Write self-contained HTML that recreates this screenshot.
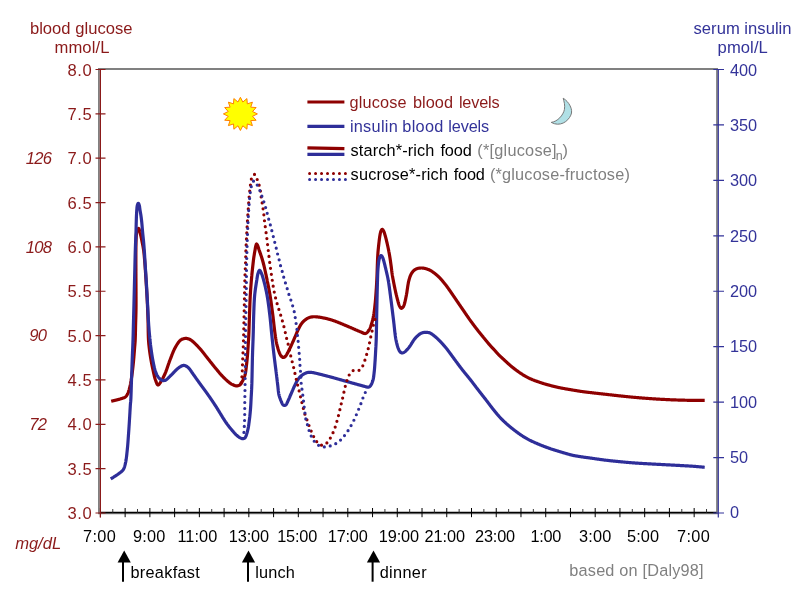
<!DOCTYPE html>
<html><head><meta charset="utf-8"><title>glucose insulin day</title>
<style>
html,body{margin:0;padding:0;background:#fff;}
body{width:800px;height:600px;overflow:hidden;}
svg{display:block;will-change:transform;}
text{font-family:"Liberation Sans",sans-serif;font-size:16.3px;}
.r{fill:#8B1A1A}.b{fill:#333399}.g{fill:#808080}.k{fill:#000}.i{font-style:italic}
</style></head><body>
<svg width="800" height="600" viewBox="0 0 800 600">
<rect width="800" height="600" fill="#fff"/>
<g stroke="#808080" stroke-width="1.8" fill="none"><path d="M98,69 H718"/><path d="M98.9,68.1 V513.5"/><path d="M717,68.1 V513.6"/><path d="M98,513.3 H718"/></g>
<g stroke="#000" fill="none"><path d="M100,512.5 H716.4" stroke-width="1.3"/><path d="M100.40,508V517.2M125.14,508V517.2M149.88,508V517.2M174.62,508V517.2M199.36,508V517.2M224.10,508V517.2M248.84,508V517.2M273.58,508V517.2M298.32,508V517.2M323.06,508V517.2M347.80,508V517.2M372.54,508V517.2M397.28,508V517.2M422.02,508V517.2M446.76,508V517.2M471.50,508V517.2M496.24,508V517.2M520.98,508V517.2M545.72,508V517.2M570.46,508V517.2M595.20,508V517.2M619.94,508V517.2M644.68,508V517.2M669.42,508V517.2M694.16,508V517.2" stroke-width="1"/><path d="M112.77,509V513M137.51,509V513M162.25,509V513M186.99,509V513M211.73,509V513M236.47,509V513M261.21,509V513M285.95,509V513M310.69,509V513M335.43,509V513M360.17,509V513M384.91,509V513M409.65,509V513M434.39,509V513M459.13,509V513M483.87,509V513M508.61,509V513M533.35,509V513M558.09,509V513M582.83,509V513M607.57,509V513M632.31,509V513M657.05,509V513M681.79,509V513M706.53,509V513" stroke-width="0.9" stroke="#222"/></g>
<path d="M100.4,69V517.5M95.5,513.00H105.5M95.5,468.65H105.5M95.5,424.30H105.5M95.5,379.95H105.5M95.5,335.60H105.5M95.5,291.25H105.5M95.5,246.90H105.5M95.5,202.55H105.5M95.5,158.20H105.5M95.5,113.85H105.5M95.5,69.50H105.5" stroke="#8B1A1A" stroke-width="1.2" fill="none"/>
<path d="M718.3,69V517.5M713.3,513.00H724M713.3,457.56H724M713.3,402.12H724M713.3,346.68H724M713.3,291.24H724M713.3,235.80H724M713.3,180.36H724M713.3,124.92H724M713.3,69.48H724" stroke="#333399" stroke-width="1.2" fill="none"/>
<text class="r" x="67.50" y="518.80" style="font-size:16.6px;letter-spacing:0.532px">3.0</text><text class="r" x="67.50" y="474.50" style="font-size:16.6px;letter-spacing:0.532px">3.5</text><text class="r" x="67.50" y="430.20" style="font-size:16.6px;letter-spacing:0.532px">4.0</text><text class="r" x="67.50" y="385.90" style="font-size:16.6px;letter-spacing:0.532px">4.5</text><text class="r" x="67.50" y="341.60" style="font-size:16.6px;letter-spacing:0.532px">5.0</text><text class="r" x="67.50" y="297.30" style="font-size:16.6px;letter-spacing:0.532px">5.5</text><text class="r" x="67.50" y="253.00" style="font-size:16.6px;letter-spacing:0.532px">6.0</text><text class="r" x="67.50" y="208.70" style="font-size:16.6px;letter-spacing:0.532px">6.5</text><text class="r" x="67.50" y="164.40" style="font-size:16.6px;letter-spacing:0.532px">7.0</text><text class="r" x="67.50" y="120.10" style="font-size:16.6px;letter-spacing:0.532px">7.5</text><text class="r" x="67.50" y="75.80" style="font-size:16.6px;letter-spacing:0.532px">8.0</text>
<text class="r i" x="38.6" y="164.00" text-anchor="middle" style="font-size:16.6px;letter-spacing:-0.705px">126</text><text class="r i" x="38.6" y="252.70" text-anchor="middle" style="font-size:16.6px;letter-spacing:-0.705px">108</text><text class="r i" x="37.8" y="341.40" text-anchor="middle" style="font-size:16.6px;letter-spacing:-0.705px">90</text><text class="r i" x="37.8" y="430.10" text-anchor="middle" style="font-size:16.6px;letter-spacing:-0.705px">72</text><text class="r i" x="15.14" y="548.80" style="font-size:16.6px;letter-spacing:-0.032px">mg/dL</text>
<text class="r" x="29.88" y="33.60" style="font-size:16.6px;letter-spacing:0.024px">blood glucose</text><text class="r" x="54.46" y="53.00" style="font-size:16.6px;letter-spacing:0.111px">mmol/L</text>
<text class="b" x="729.9" y="518.20" style="font-size:16.3px">0</text><text class="b" x="729.9" y="462.90" style="font-size:16.3px">50</text><text class="b" x="729.9" y="407.60" style="font-size:16.3px">100</text><text class="b" x="729.9" y="352.30" style="font-size:16.3px">150</text><text class="b" x="729.9" y="297.00" style="font-size:16.3px">200</text><text class="b" x="729.9" y="241.70" style="font-size:16.3px">250</text><text class="b" x="729.9" y="186.40" style="font-size:16.3px">300</text><text class="b" x="729.9" y="131.10" style="font-size:16.3px">350</text><text class="b" x="729.9" y="75.80" style="font-size:16.3px">400</text>
<text class="b" x="693.50" y="33.70" style="font-size:16.6px;letter-spacing:0.025px">serum insulin</text><text class="b" x="717.58" y="52.70" style="font-size:16.6px;letter-spacing:0.085px">pmol/L</text>
<text class="k" x="83.00" y="541.50" style="font-size:16.3px;letter-spacing:0.333px">7:00</text><text class="k" x="133.00" y="541.50" style="font-size:16.3px;letter-spacing:0.2px">9:00</text><text class="k" x="177.38" y="541.50" style="font-size:16.3px;letter-spacing:0.068px">11:00</text><text class="k" x="228.78" y="541.50" style="font-size:16.3px;letter-spacing:-0.095px">13:00</text><text class="k" x="277.18" y="541.50" style="font-size:16.3px;letter-spacing:-0.145px">15:00</text><text class="k" x="327.78" y="541.50" style="font-size:16.3px;letter-spacing:-0.195px">17:00</text><text class="k" x="378.78" y="541.50" style="font-size:16.3px;letter-spacing:-0.095px">19:00</text><text class="k" x="424.40" y="541.50" style="font-size:16.3px;letter-spacing:0.0px">21:00</text><text class="k" x="475.00" y="541.50" style="font-size:16.3px;letter-spacing:-0.15px">23:00</text><text class="k" x="530.38" y="541.50" style="font-size:16.3px;letter-spacing:-0.26px">1:00</text><text class="k" x="579.00" y="541.50" style="font-size:16.3px;letter-spacing:0.2px">3:00</text><text class="k" x="626.95" y="541.50" style="font-size:16.3px;letter-spacing:0.15px">5:00</text><text class="k" x="677.00" y="541.50" style="font-size:16.3px;letter-spacing:0.333px">7:00</text>
<path d="M123.00,581.7V560" stroke="#000" stroke-width="2" fill="none"/><path d="M124.20,550.6L130.80,562.4L117.60,562.4Z" fill="#000"/><text class="k" x="130.41" y="578.20" style="font-size:16.3px;letter-spacing:0.299px">breakfast</text>
<path d="M248.00,581.7V560" stroke="#000" stroke-width="2" fill="none"/><path d="M248.50,550.6L255.10,562.4L241.90,562.4Z" fill="#000"/><text class="k" x="255.13" y="578.20" style="font-size:16.3px;letter-spacing:0.191px">lunch</text>
<path d="M372.60,581.7V560" stroke="#000" stroke-width="2" fill="none"/><path d="M373.50,550.6L380.10,562.4L366.90,562.4Z" fill="#000"/><text class="k" x="379.75" y="578.20" style="font-size:16.3px;letter-spacing:0.318px">dinner</text>
<text class="g" x="569.31" y="576.40" style="font-size:16.3px;letter-spacing:0.193px">based on [Daly98]</text>
<g fill="none" stroke-width="3.2"><path d="M307.4,102H344.4" stroke="#8E0000"/><path d="M307.4,126.4H344.4" stroke="#2E2E99"/><path d="M307.4,147.8L344.4,148.6" stroke="#8E0000"/><path d="M307.4,154.4H344.4" stroke="#2E2E99"/><path d="M309.6,173.4H346" stroke="#8E0000" stroke-width="3" stroke-linecap="round" stroke-dasharray="0 5.97"/><path d="M309.6,179.4H346" stroke="#2E2E99" stroke-width="3" stroke-linecap="round" stroke-dasharray="0 5.97"/></g>
<text class="r" x="349.40" y="107.60" style="font-size:16.3px;letter-spacing:0.194px">glucose</text><text class="r" x="412.91" y="107.60" style="font-size:16.3px;letter-spacing:0.064px">blood</text><text class="r" x="458.88" y="107.60" style="font-size:16.3px;letter-spacing:-0.175px">levels</text>
<text class="b" x="349.88" y="131.60" style="font-size:16.3px;letter-spacing:0.287px">insulin</text><text class="b" x="402.31" y="131.60" style="font-size:16.3px;letter-spacing:0.314px">blood</text><text class="b" x="448.28" y="131.60" style="font-size:16.3px;letter-spacing:-0.135px">levels</text>
<text class="k" x="350.60" y="155.60" style="font-size:16.3px;letter-spacing:0.127px">starch*-rich</text><text class="k" x="440.38" y="155.60" style="font-size:16.3px;letter-spacing:-0.072px">food</text><text class="g" x="477.32" y="155.60" style="font-size:16.3px;letter-spacing:0.233px">(*[glucose]</text><text class="g" x="555.8" y="159.7" style="font-size:12.5px">n</text><text class="g" x="562.55" y="155.60" style="font-size:16.3px;letter-spacing:0.0px">)</text>
<text class="k" x="350.60" y="180.40" style="font-size:16.3px;letter-spacing:0.2px">sucrose*-rich</text><text class="k" x="453.78" y="180.40" style="font-size:16.3px;letter-spacing:-0.206px">food</text><text class="g" x="489.92" y="180.40" style="font-size:16.3px;letter-spacing:0.184px">(*glucose-fructose)</text>
<polygon points="240.40,97.33 242.82,102.04 246.91,98.59 247.29,103.85 252.42,102.18 250.71,107.18 256.11,107.56 252.56,111.54 257.40,113.90 252.56,116.26 256.11,120.24 250.71,120.62 252.42,125.62 247.29,123.95 246.91,129.21 242.82,125.76 240.40,130.47 237.98,125.76 233.89,129.21 233.51,123.95 228.38,125.62 230.09,120.62 224.69,120.24 228.24,116.26 223.40,113.90 228.24,111.54 224.69,107.56 230.09,107.18 228.38,102.18 233.51,103.85 233.89,98.59 237.98,102.04" fill="#FFFF00" stroke="#FF8000" stroke-width="1" stroke-linejoin="miter"/>
<path d="M563.2,98.2C568.8,101.6 573.6,109.6 570.8,115.2C568,121.6 560,127.2 551.2,122.4C557.6,121.6 563.2,115.2 564.4,109.6C565.2,104.8 564,101.6 563.2,98.2Z" fill="#B0E0E6" stroke="#787878" stroke-width="1"/>
<g fill="none" stroke-width="3.2" stroke-linejoin="round">
<path d="M111.20,401.30L111.71,401.17L112.23,401.04L112.76,400.91L113.30,400.78L113.83,400.64L114.36,400.51L114.90,400.38L115.42,400.25L115.94,400.12L116.44,399.99L116.93,399.86L117.41,399.74L117.86,399.62L118.30,399.50L118.89,399.34L119.45,399.19L119.98,399.05L120.49,398.90L120.99,398.75L121.49,398.58L122.00,398.40L122.48,398.23L122.97,398.06L123.46,397.89L123.95,397.70L124.42,397.50L124.88,397.27L125.31,397.00L125.70,396.70L126.07,396.34L126.40,395.95L126.70,395.52L126.99,395.06L127.25,394.58L127.51,394.07L127.75,393.54L128.00,393.00L128.19,392.56L128.37,392.10L128.54,391.62L128.71,391.13L128.87,390.62L129.03,390.11L129.18,389.58L129.32,389.04L129.46,388.50L129.60,387.95L129.74,387.40L129.87,386.85L130.00,386.30L130.11,385.81L130.22,385.32L130.33,384.82L130.43,384.31L130.53,383.81L130.63,383.30L130.72,382.78L130.81,382.26L130.90,381.74L130.99,381.21L131.08,380.69L131.16,380.15L131.25,379.62L131.33,379.08L131.42,378.54L131.50,378.00L131.57,377.52L131.65,377.04L131.72,376.55L131.79,376.06L131.86,375.57L131.93,375.07L131.99,374.57L132.06,374.07L132.13,373.57L132.19,373.06L132.26,372.55L132.32,372.05L132.38,371.54L132.44,371.03L132.50,370.52L132.56,370.02L132.62,369.51L132.68,369.01L132.74,368.50L132.80,368.00L132.86,367.50L132.91,367.00L132.97,366.50L133.02,366.00L133.08,365.50L133.13,365.00L133.18,364.50L133.23,364.00L133.28,363.50L133.33,363.00L133.38,362.50L133.43,362.00L133.48,361.50L133.52,361.00L133.57,360.50L133.62,360.00L133.66,359.50L133.71,359.00L133.75,358.50L133.80,358.00L133.84,357.50L133.89,357.00L133.93,356.49L133.97,355.98L134.02,355.47L134.06,354.97L134.10,354.46L134.14,353.95L134.18,353.44L134.22,352.93L134.26,352.42L134.30,351.92L134.34,351.42L134.38,350.92L134.41,350.42L134.45,349.93L134.49,349.44L134.53,348.95L134.56,348.47L134.60,348.00L134.64,347.48L134.68,346.97L134.72,346.48L134.76,346.00L134.80,345.52L134.84,345.04L134.88,344.57L134.92,344.10L134.96,343.63L135.00,343.14L135.04,342.66L135.07,342.16L135.11,341.64L135.14,341.11L135.17,340.57L135.20,340.00L135.22,339.57L135.24,339.14L135.26,338.69L135.28,338.24L135.29,337.78L135.31,337.31L135.33,336.83L135.34,336.35L135.36,335.86L135.37,335.37L135.38,334.87L135.40,334.36L135.41,333.85L135.42,333.34L135.43,332.82L135.44,332.30L135.45,331.78L135.46,331.26L135.47,330.74L135.49,330.21L135.50,329.68L135.51,329.16L135.52,328.63L135.53,328.11L135.54,327.58L135.55,327.06L135.56,326.54L135.57,326.02L135.59,325.51L135.60,325.00L135.61,324.51L135.63,324.02L135.64,323.53L135.65,323.03L135.67,322.54L135.68,322.05L135.70,321.56L135.71,321.07L135.72,320.58L135.74,320.08L135.75,319.59L135.77,319.10L135.78,318.60L135.80,318.11L135.81,317.61L135.82,317.12L135.84,316.62L135.85,316.12L135.87,315.62L135.88,315.12L135.89,314.62L135.90,314.12L135.92,313.61L135.93,313.11L135.94,312.60L135.95,312.09L135.96,311.58L135.97,311.07L135.98,310.56L135.99,310.04L135.99,309.52L136.00,309.00L136.01,308.52L136.01,308.04L136.02,307.56L136.02,307.07L136.02,306.58L136.03,306.10L136.03,305.61L136.03,305.12L136.03,304.62L136.03,304.13L136.04,303.63L136.04,303.14L136.04,302.64L136.04,302.14L136.04,301.64L136.04,301.14L136.04,300.64L136.04,300.14L136.03,299.63L136.03,299.13L136.03,298.62L136.03,298.12L136.03,297.61L136.03,297.11L136.02,296.60L136.02,296.09L136.02,295.58L136.02,295.08L136.02,294.57L136.01,294.06L136.01,293.55L136.01,293.04L136.01,292.54L136.01,292.03L136.00,291.52L136.00,291.01L136.00,290.51L136.00,290.00L136.00,289.51L136.00,289.01L136.00,288.52L135.99,288.02L135.99,287.52L135.99,287.03L135.99,286.53L135.98,286.03L135.98,285.53L135.98,285.04L135.98,284.54L135.97,284.04L135.97,283.54L135.97,283.04L135.97,282.54L135.96,282.04L135.96,281.54L135.96,281.03L135.95,280.53L135.95,280.03L135.95,279.53L135.94,279.03L135.94,278.53L135.94,278.02L135.93,277.52L135.93,277.02L135.93,276.52L135.93,276.02L135.92,275.51L135.92,275.01L135.92,274.51L135.92,274.01L135.91,273.51L135.91,273.00L135.91,272.50L135.91,272.00L135.90,271.50L135.90,271.00L135.90,270.50L135.90,270.00L135.90,269.50L135.90,268.99L135.90,268.48L135.89,267.97L135.89,267.45L135.89,266.93L135.89,266.41L135.89,265.89L135.89,265.37L135.89,264.84L135.88,264.31L135.88,263.78L135.88,263.26L135.88,262.73L135.88,262.20L135.88,261.67L135.88,261.14L135.87,260.62L135.87,260.09L135.87,259.57L135.87,259.05L135.87,258.53L135.87,258.02L135.87,257.51L135.87,257.00L135.87,256.49L135.87,255.99L135.87,255.50L135.87,255.00L135.87,254.52L135.88,254.04L135.88,253.56L135.88,253.09L135.88,252.63L135.88,252.17L135.89,251.72L135.89,251.28L135.89,250.85L135.90,250.42L135.90,250.00L135.91,249.42L135.91,248.85L135.92,248.29L135.92,247.75L135.93,247.21L135.94,246.68L135.94,246.16L135.95,245.65L135.96,245.15L135.97,244.65L135.98,244.16L135.99,243.68L136.00,243.20L136.01,242.73L136.02,242.27L136.04,241.81L136.05,241.35L136.07,240.90L136.08,240.45L136.10,240.00L136.12,239.45L136.14,238.90L136.16,238.37L136.18,237.84L136.20,237.31L136.23,236.80L136.25,236.29L136.28,235.80L136.32,235.32L136.35,234.84L136.40,234.38L136.44,233.93L136.50,233.50L136.58,232.90L136.66,232.30L136.75,231.73L136.85,231.19L136.97,230.68L137.12,230.21L137.30,229.80L137.71,229.14L138.19,228.60L138.60,228.40L138.88,228.66L139.10,229.21L139.30,229.80L139.45,230.29L139.58,230.81L139.70,231.37L139.85,232.00L139.96,232.42L140.07,232.87L140.20,233.35L140.33,233.85L140.46,234.37L140.59,234.90L140.73,235.43L140.86,235.97L140.98,236.49L141.10,237.00L141.21,237.50L141.32,238.00L141.42,238.50L141.52,239.00L141.62,239.50L141.71,240.00L141.81,240.50L141.90,241.00L142.00,241.50L142.10,242.00L142.20,242.50L142.30,243.00L142.41,243.50L142.51,244.00L142.62,244.50L142.72,245.00L142.82,245.50L142.92,246.00L143.01,246.50L143.10,247.00L143.19,247.49L143.27,247.96L143.34,248.42L143.42,248.88L143.49,249.35L143.56,249.83L143.63,250.32L143.71,250.85L143.78,251.40L143.85,252.00L143.90,252.39L143.94,252.80L143.99,253.22L144.03,253.65L144.08,254.10L144.12,254.56L144.17,255.03L144.22,255.52L144.26,256.01L144.31,256.51L144.35,257.02L144.40,257.54L144.44,258.06L144.49,258.59L144.53,259.12L144.58,259.65L144.62,260.19L144.66,260.73L144.71,261.27L144.75,261.81L144.79,262.35L144.84,262.89L144.88,263.42L144.92,263.95L144.96,264.48L145.00,265.00L145.04,265.48L145.07,265.96L145.11,266.45L145.15,266.93L145.18,267.41L145.21,267.90L145.25,268.38L145.28,268.87L145.32,269.35L145.35,269.84L145.38,270.33L145.42,270.82L145.45,271.31L145.48,271.80L145.51,272.30L145.54,272.79L145.58,273.29L145.61,273.79L145.64,274.30L145.67,274.80L145.70,275.31L145.74,275.82L145.77,276.33L145.80,276.84L145.83,277.36L145.87,277.88L145.90,278.41L145.93,278.94L145.97,279.47L146.00,280.00L146.03,280.47L146.06,280.94L146.09,281.41L146.12,281.88L146.15,282.36L146.18,282.84L146.21,283.33L146.24,283.82L146.27,284.31L146.31,284.80L146.34,285.29L146.37,285.79L146.40,286.29L146.43,286.79L146.46,287.29L146.50,287.79L146.53,288.30L146.56,288.80L146.59,289.31L146.62,289.82L146.65,290.33L146.68,290.84L146.72,291.35L146.75,291.86L146.78,292.37L146.81,292.88L146.84,293.40L146.87,293.91L146.90,294.42L146.93,294.93L146.96,295.44L146.98,295.95L147.01,296.46L147.04,296.97L147.07,297.48L147.10,297.99L147.12,298.49L147.15,299.00L147.17,299.50L147.20,300.00L147.22,300.50L147.25,301.00L147.27,301.50L147.30,302.00L147.32,302.50L147.34,303.00L147.37,303.50L147.39,304.00L147.41,304.50L147.44,305.00L147.46,305.50L147.48,306.00L147.50,306.50L147.52,307.00L147.54,307.50L147.56,308.00L147.58,308.50L147.60,309.00L147.62,309.50L147.64,310.00L147.66,310.50L147.68,311.00L147.70,311.50L147.72,312.00L147.74,312.50L147.76,313.00L147.78,313.50L147.79,314.00L147.81,314.50L147.83,315.00L147.85,315.50L147.87,316.00L147.88,316.50L147.90,317.00L147.92,317.50L147.93,318.00L147.95,318.50L147.97,319.00L147.98,319.50L148.00,320.00L148.02,320.50L148.03,321.01L148.04,321.52L148.06,322.03L148.07,322.55L148.08,323.07L148.09,323.59L148.10,324.11L148.11,324.63L148.12,325.16L148.13,325.69L148.14,326.22L148.15,326.75L148.15,327.27L148.16,327.80L148.17,328.33L148.18,328.86L148.19,329.38L148.19,329.91L148.20,330.43L148.21,330.95L148.22,331.47L148.23,331.98L148.24,332.50L148.25,333.00L148.26,333.51L148.27,334.01L148.28,334.51L148.29,335.00L148.31,335.48L148.32,335.97L148.34,336.44L148.35,336.91L148.37,337.37L148.39,337.83L148.41,338.28L148.43,338.72L148.45,339.16L148.47,339.58L148.50,340.00L148.54,340.58L148.58,341.14L148.62,341.69L148.66,342.22L148.70,342.74L148.75,343.26L148.79,343.76L148.84,344.25L148.89,344.74L148.94,345.22L148.99,345.69L149.04,346.17L149.09,346.64L149.15,347.11L149.20,347.58L149.26,348.06L149.32,348.53L149.38,349.02L149.44,349.50L149.50,350.00L149.56,350.50L149.63,351.00L149.69,351.50L149.76,352.00L149.83,352.50L149.90,353.00L149.97,353.50L150.04,354.00L150.11,354.50L150.19,355.00L150.26,355.50L150.34,356.00L150.42,356.50L150.50,357.00L150.58,357.50L150.66,358.00L150.74,358.50L150.83,359.00L150.91,359.50L151.00,360.00L151.09,360.50L151.18,361.00L151.27,361.50L151.36,362.00L151.45,362.50L151.55,363.00L151.64,363.51L151.74,364.01L151.84,364.51L151.94,365.01L152.04,365.51L152.14,366.01L152.24,366.51L152.35,367.01L152.45,367.50L152.56,368.00L152.67,368.50L152.78,369.00L152.89,369.50L153.00,370.00L153.11,370.51L153.23,371.02L153.34,371.54L153.45,372.06L153.57,372.59L153.68,373.12L153.80,373.65L153.92,374.18L154.03,374.71L154.15,375.23L154.28,375.75L154.40,376.27L154.53,376.78L154.66,377.27L154.79,377.76L154.93,378.24L155.06,378.70L155.21,379.15L155.35,379.58L155.50,380.00L155.70,380.56L155.91,381.16L156.12,381.76L156.34,382.35L156.56,382.93L156.79,383.46L157.02,383.94L157.26,384.35L157.50,384.68L157.75,384.90L158.00,385.00L158.33,384.95L158.68,384.73L159.03,384.37L159.39,383.91L159.76,383.39L160.13,382.84L160.50,382.30L160.72,381.98L160.95,381.63L161.18,381.26L161.42,380.88L161.65,380.48L161.89,380.06L162.13,379.63L162.38,379.19L162.62,378.73L162.86,378.26L163.10,377.78L163.35,377.29L163.59,376.80L163.83,376.30L164.07,375.79L164.31,375.29L164.54,374.77L164.77,374.26L165.00,373.75L165.18,373.33L165.36,372.91L165.54,372.47L165.72,372.03L165.89,371.58L166.07,371.12L166.24,370.66L166.41,370.19L166.59,369.71L166.76,369.23L166.93,368.75L167.10,368.26L167.26,367.77L167.43,367.28L167.60,366.78L167.77,366.29L167.94,365.79L168.11,365.30L168.28,364.80L168.44,364.31L168.61,363.82L168.78,363.32L168.96,362.84L169.13,362.35L169.30,361.87L169.47,361.40L169.65,360.92L169.82,360.46L170.00,360.00L170.19,359.52L170.37,359.04L170.56,358.55L170.74,358.07L170.93,357.58L171.11,357.10L171.30,356.61L171.48,356.13L171.67,355.65L171.85,355.16L172.04,354.68L172.22,354.21L172.41,353.73L172.60,353.26L172.79,352.79L172.98,352.33L173.17,351.87L173.37,351.41L173.57,350.96L173.76,350.52L173.96,350.08L174.17,349.65L174.37,349.23L174.58,348.81L174.79,348.40L175.00,348.00L175.27,347.50L175.55,346.99L175.84,346.48L176.13,345.98L176.42,345.48L176.72,344.99L177.01,344.50L177.31,344.03L177.62,343.57L177.92,343.12L178.22,342.69L178.52,342.28L178.82,341.90L179.12,341.53L179.42,341.19L179.71,340.88L180.00,340.60L180.50,340.17L180.99,339.82L181.48,339.54L181.98,339.30L182.48,339.09L183.00,338.90L183.52,338.73L184.06,338.60L184.61,338.49L185.16,338.42L185.71,338.39L186.25,338.40L186.80,338.46L187.35,338.56L187.90,338.70L188.44,338.88L188.98,339.08L189.50,339.30L189.94,339.51L190.35,339.73L190.76,339.97L191.16,340.24L191.58,340.53L192.02,340.87L192.50,341.25L192.79,341.49L193.10,341.75L193.42,342.04L193.75,342.33L194.09,342.65L194.44,342.97L194.80,343.32L195.16,343.67L195.53,344.03L195.90,344.40L196.28,344.79L196.66,345.17L197.04,345.57L197.42,345.96L197.80,346.36L198.18,346.76L198.55,347.17L198.93,347.57L199.29,347.97L199.65,348.36L200.00,348.75L200.34,349.13L200.67,349.51L201.00,349.90L201.33,350.29L201.66,350.69L201.99,351.09L202.32,351.49L202.65,351.90L202.97,352.30L203.30,352.71L203.62,353.13L203.94,353.54L204.27,353.96L204.59,354.37L204.91,354.79L205.23,355.21L205.56,355.62L205.88,356.04L206.20,356.45L206.53,356.87L206.85,357.28L207.17,357.69L207.50,358.10L207.81,358.49L208.12,358.88L208.44,359.28L208.75,359.67L209.06,360.06L209.37,360.46L209.68,360.85L209.99,361.25L210.31,361.64L210.62,362.04L210.93,362.43L211.24,362.83L211.55,363.22L211.86,363.61L212.18,364.01L212.49,364.40L212.80,364.79L213.11,365.18L213.43,365.57L213.74,365.96L214.05,366.35L214.37,366.73L214.68,367.12L215.00,367.50L215.32,367.89L215.64,368.28L215.97,368.67L216.29,369.07L216.61,369.46L216.93,369.85L217.25,370.24L217.58,370.64L217.90,371.03L218.22,371.42L218.55,371.80L218.87,372.19L219.20,372.57L219.52,372.96L219.85,373.34L220.18,373.71L220.50,374.09L220.83,374.46L221.16,374.82L221.50,375.19L221.83,375.55L222.16,375.90L222.50,376.25L222.87,376.63L223.24,377.01L223.62,377.39L224.01,377.78L224.40,378.17L224.79,378.55L225.19,378.93L225.58,379.31L225.98,379.68L226.37,380.05L226.76,380.41L227.15,380.76L227.53,381.10L227.91,381.43L228.28,381.75L228.64,382.05L229.00,382.34L229.34,382.61L229.68,382.86L230.00,383.10L230.55,383.48L231.07,383.80L231.57,384.09L232.06,384.35L232.54,384.58L233.01,384.79L233.50,385.00L234.00,385.21L234.50,385.42L234.99,385.61L235.49,385.76L235.99,385.87L236.50,385.90L237.00,385.87L237.52,385.80L238.06,385.67L238.59,385.51L239.10,385.31L239.57,385.07L240.00,384.80L240.41,384.45L240.77,384.05L241.08,383.60L241.38,383.11L241.68,382.58L242.00,382.00L242.20,381.64L242.41,381.25L242.62,380.84L242.84,380.42L243.06,379.98L243.27,379.52L243.49,379.05L243.70,378.57L243.91,378.08L244.12,377.57L244.31,377.07L244.50,376.55L244.68,376.04L244.85,375.52L245.00,375.00L245.12,374.55L245.24,374.08L245.34,373.61L245.44,373.13L245.53,372.65L245.62,372.15L245.70,371.65L245.77,371.15L245.85,370.64L245.91,370.13L245.98,369.62L246.04,369.10L246.10,368.58L246.15,368.07L246.21,367.55L246.27,367.04L246.32,366.52L246.38,366.01L246.44,365.50L246.50,365.00L246.56,364.50L246.62,364.00L246.68,363.50L246.74,363.00L246.79,362.50L246.85,362.00L246.90,361.50L246.95,361.00L247.00,360.50L247.05,360.00L247.10,359.50L247.15,359.00L247.19,358.50L247.24,358.00L247.28,357.50L247.33,357.00L247.37,356.50L247.41,356.00L247.46,355.50L247.50,355.00L247.54,354.50L247.58,354.00L247.62,353.50L247.66,353.00L247.70,352.50L247.74,352.00L247.77,351.50L247.81,351.00L247.84,350.50L247.87,350.00L247.91,349.50L247.94,349.00L247.97,348.50L248.01,348.00L248.04,347.50L248.07,347.00L248.10,346.50L248.14,346.00L248.17,345.50L248.20,345.00L248.23,344.50L248.26,344.02L248.30,343.53L248.33,343.06L248.36,342.58L248.39,342.11L248.42,341.64L248.45,341.17L248.48,340.69L248.51,340.22L248.54,339.73L248.57,339.25L248.60,338.75L248.63,338.25L248.66,337.74L248.69,337.22L248.72,336.69L248.74,336.14L248.77,335.58L248.80,335.00L248.82,334.58L248.84,334.16L248.86,333.72L248.88,333.28L248.90,332.83L248.91,332.37L248.93,331.91L248.95,331.44L248.97,330.96L248.98,330.48L249.00,330.00L249.02,329.50L249.04,329.01L249.05,328.51L249.07,328.00L249.09,327.49L249.10,326.98L249.12,326.47L249.14,325.95L249.15,325.43L249.17,324.91L249.19,324.38L249.20,323.86L249.22,323.33L249.24,322.80L249.25,322.27L249.27,321.74L249.29,321.22L249.31,320.69L249.32,320.16L249.34,319.63L249.36,319.11L249.37,318.59L249.39,318.07L249.41,317.55L249.43,317.03L249.44,316.52L249.46,316.01L249.48,315.50L249.50,315.00L249.52,314.50L249.54,314.00L249.56,313.49L249.57,312.99L249.59,312.48L249.61,311.97L249.63,311.46L249.65,310.95L249.66,310.44L249.68,309.93L249.70,309.42L249.72,308.91L249.73,308.40L249.75,307.88L249.77,307.37L249.79,306.86L249.81,306.35L249.83,305.84L249.84,305.33L249.86,304.82L249.88,304.31L249.90,303.80L249.92,303.30L249.94,302.79L249.96,302.29L249.98,301.79L250.00,301.29L250.02,300.79L250.04,300.29L250.06,299.80L250.08,299.30L250.11,298.82L250.13,298.33L250.15,297.84L250.18,297.36L250.20,296.88L250.22,296.41L250.25,295.93L250.27,295.47L250.30,295.00L250.33,294.46L250.36,293.93L250.40,293.39L250.43,292.85L250.46,292.31L250.50,291.78L250.53,291.24L250.57,290.71L250.61,290.18L250.64,289.65L250.68,289.12L250.72,288.60L250.76,288.07L250.80,287.56L250.83,287.04L250.87,286.53L250.91,286.03L250.95,285.52L250.99,285.03L251.03,284.54L251.07,284.05L251.11,283.57L251.14,283.10L251.18,282.64L251.22,282.18L251.26,281.73L251.29,281.28L251.33,280.85L251.37,280.42L251.40,280.00L251.45,279.43L251.50,278.87L251.54,278.33L251.59,277.81L251.63,277.31L251.68,276.81L251.73,276.33L251.77,275.85L251.82,275.38L251.86,274.90L251.91,274.43L251.95,273.96L252.00,273.48L252.05,272.99L252.10,272.50L252.15,272.00L252.20,271.50L252.25,271.00L252.30,270.50L252.36,270.00L252.41,269.50L252.46,269.00L252.51,268.50L252.57,268.00L252.62,267.50L252.68,267.00L252.73,266.50L252.79,266.00L252.84,265.50L252.90,265.00L252.96,264.50L253.01,264.00L253.07,263.50L253.12,263.00L253.18,262.50L253.24,262.00L253.29,261.50L253.35,261.00L253.41,260.50L253.47,260.00L253.53,259.50L253.60,259.00L253.66,258.50L253.73,258.00L253.80,257.50L253.87,256.99L253.95,256.48L254.03,255.96L254.12,255.44L254.20,254.91L254.29,254.39L254.38,253.86L254.46,253.34L254.55,252.83L254.64,252.33L254.73,251.83L254.81,251.35L254.89,250.88L254.97,250.43L255.05,250.00L255.15,249.43L255.24,248.88L255.32,248.34L255.41,247.83L255.50,247.34L255.59,246.87L255.69,246.42L255.80,246.00L255.98,245.36L256.17,244.71L256.37,244.21L256.60,244.00L256.92,244.23L257.26,244.81L257.60,245.50L257.77,245.88L257.93,246.31L258.09,246.77L258.25,247.26L258.41,247.78L258.57,248.32L258.74,248.87L258.91,249.44L259.10,250.00L259.25,250.44L259.41,250.90L259.58,251.38L259.75,251.86L259.93,252.36L260.11,252.86L260.29,253.37L260.48,253.89L260.66,254.40L260.84,254.92L261.02,255.45L261.20,255.97L261.37,256.48L261.54,256.99L261.70,257.50L261.85,258.00L262.01,258.50L262.16,258.99L262.30,259.49L262.45,259.99L262.59,260.49L262.73,260.99L262.87,261.49L263.01,261.99L263.15,262.49L263.28,262.99L263.41,263.50L263.54,264.00L263.67,264.50L263.80,265.00L263.92,265.50L264.05,266.00L264.17,266.50L264.28,267.00L264.40,267.50L264.51,268.00L264.62,268.50L264.74,269.00L264.85,269.50L264.95,270.00L265.06,270.50L265.17,271.00L265.28,271.50L265.39,272.00L265.50,272.50L265.61,272.99L265.72,273.48L265.82,273.96L265.92,274.43L266.03,274.90L266.13,275.37L266.23,275.85L266.33,276.33L266.44,276.81L266.54,277.31L266.65,277.81L266.76,278.33L266.87,278.87L266.98,279.42L267.10,280.00L267.19,280.42L267.27,280.85L267.36,281.28L267.45,281.72L267.54,282.18L267.64,282.63L267.73,283.10L267.83,283.57L267.93,284.05L268.03,284.53L268.13,285.03L268.23,285.52L268.33,286.02L268.43,286.53L268.53,287.04L268.63,287.55L268.73,288.07L268.84,288.59L268.94,289.12L269.04,289.64L269.14,290.17L269.24,290.71L269.34,291.24L269.44,291.77L269.53,292.31L269.63,292.85L269.72,293.39L269.82,293.92L269.91,294.46L270.00,295.00L270.08,295.46L270.15,295.93L270.23,296.41L270.30,296.88L270.38,297.36L270.45,297.84L270.53,298.32L270.60,298.81L270.68,299.30L270.75,299.79L270.82,300.29L270.89,300.78L270.97,301.28L271.04,301.78L271.11,302.28L271.18,302.79L271.25,303.29L271.32,303.80L271.39,304.31L271.46,304.81L271.53,305.32L271.60,305.83L271.67,306.35L271.74,306.86L271.80,307.37L271.87,307.88L271.94,308.39L272.01,308.91L272.07,309.42L272.14,309.93L272.21,310.44L272.27,310.95L272.34,311.46L272.41,311.97L272.47,312.48L272.54,312.99L272.60,313.49L272.67,314.00L272.73,314.50L272.80,315.00L272.86,315.50L272.93,316.01L272.99,316.52L273.06,317.03L273.12,317.55L273.18,318.06L273.24,318.59L273.30,319.11L273.36,319.63L273.42,320.16L273.48,320.69L273.54,321.22L273.60,321.74L273.66,322.27L273.72,322.80L273.78,323.33L273.84,323.86L273.90,324.38L273.96,324.91L274.01,325.43L274.07,325.95L274.13,326.47L274.19,326.99L274.25,327.50L274.31,328.01L274.36,328.51L274.42,329.01L274.48,329.51L274.54,330.00L274.60,330.49L274.66,330.97L274.72,331.44L274.78,331.91L274.84,332.37L274.90,332.83L274.96,333.28L275.02,333.72L275.08,334.16L275.14,334.58L275.20,335.00L275.29,335.58L275.37,336.15L275.46,336.70L275.54,337.24L275.62,337.77L275.70,338.30L275.78,338.81L275.87,339.31L275.95,339.81L276.03,340.30L276.12,340.78L276.20,341.26L276.29,341.73L276.38,342.20L276.48,342.67L276.57,343.14L276.68,343.60L276.78,344.07L276.89,344.53L277.00,345.00L277.13,345.53L277.27,346.07L277.41,346.61L277.56,347.15L277.71,347.69L277.86,348.23L278.01,348.76L278.17,349.28L278.33,349.80L278.49,350.30L278.66,350.79L278.82,351.27L278.99,351.73L279.16,352.17L279.33,352.60L279.50,353.00L279.73,353.53L279.97,354.05L280.20,354.54L280.44,355.01L280.68,355.44L280.94,355.84L281.21,356.19L281.50,356.50L281.97,356.90L282.48,357.22L283.00,357.43L283.50,357.50L283.97,357.41L284.43,357.18L284.88,356.86L285.30,356.50L285.61,356.18L285.89,355.83L286.15,355.44L286.42,355.00L286.70,354.52L287.00,354.00L287.20,353.65L287.41,353.28L287.63,352.88L287.85,352.45L288.08,352.01L288.32,351.54L288.56,351.07L288.80,350.58L289.05,350.08L289.30,349.57L289.55,349.05L289.80,348.54L290.04,348.02L290.29,347.51L290.53,347.00L290.77,346.49L291.00,346.00L291.22,345.54L291.43,345.08L291.65,344.61L291.86,344.14L292.07,343.66L292.29,343.19L292.50,342.71L292.71,342.23L292.93,341.75L293.14,341.27L293.35,340.78L293.56,340.30L293.77,339.82L293.97,339.35L294.18,338.87L294.39,338.40L294.59,337.93L294.80,337.46L295.00,337.00L295.21,336.52L295.42,336.03L295.63,335.54L295.83,335.06L296.03,334.57L296.24,334.09L296.44,333.61L296.64,333.13L296.84,332.65L297.04,332.18L297.24,331.71L297.45,331.24L297.65,330.78L297.86,330.33L298.07,329.88L298.28,329.43L298.50,329.00L298.75,328.50L299.01,328.00L299.26,327.50L299.52,327.01L299.77,326.53L300.03,326.05L300.29,325.58L300.56,325.12L300.83,324.67L301.11,324.23L301.40,323.81L301.69,323.40L302.00,323.00L302.36,322.56L302.74,322.14L303.12,321.73L303.52,321.34L303.92,320.96L304.33,320.59L304.74,320.25L305.16,319.92L305.58,319.60L306.00,319.30L306.48,318.98L306.96,318.68L307.44,318.39L307.93,318.13L308.43,317.89L308.94,317.67L309.46,317.47L310.00,317.30L310.46,317.17L310.91,317.06L311.36,316.97L311.82,316.89L312.29,316.83L312.77,316.78L313.28,316.75L313.82,316.73L314.39,316.73L315.00,316.75L315.38,316.77L315.77,316.79L316.17,316.82L316.59,316.86L317.03,316.90L317.48,316.95L317.94,317.00L318.41,317.06L318.89,317.13L319.38,317.20L319.88,317.28L320.39,317.36L320.90,317.45L321.43,317.54L321.95,317.63L322.49,317.73L323.02,317.84L323.56,317.95L324.11,318.06L324.65,318.17L325.19,318.29L325.74,318.42L326.28,318.54L326.82,318.67L327.36,318.80L327.90,318.94L328.43,319.08L328.96,319.22L329.48,319.36L330.00,319.50L330.46,319.63L330.93,319.77L331.41,319.92L331.89,320.07L332.38,320.23L332.87,320.40L333.36,320.57L333.86,320.74L334.36,320.92L334.86,321.10L335.37,321.29L335.87,321.48L336.38,321.67L336.88,321.87L337.39,322.07L337.90,322.26L338.40,322.47L338.90,322.67L339.41,322.87L339.90,323.07L340.40,323.28L340.89,323.48L341.38,323.68L341.86,323.89L342.34,324.09L342.81,324.28L343.28,324.48L343.74,324.67L344.19,324.87L344.64,325.05L345.07,325.24L345.50,325.42L345.92,325.59L346.33,325.77L346.73,325.93L347.12,326.09L347.50,326.25L348.06,326.48L348.60,326.71L349.12,326.93L349.62,327.14L350.11,327.35L350.58,327.56L351.05,327.76L351.50,327.96L351.95,328.16L352.39,328.36L352.82,328.55L353.26,328.74L353.69,328.93L354.12,329.12L354.56,329.31L355.00,329.50L355.48,329.71L355.97,329.91L356.45,330.12L356.92,330.32L357.39,330.53L357.86,330.72L358.32,330.92L358.78,331.11L359.23,331.30L359.68,331.49L360.13,331.66L360.57,331.84L361.00,332.00L361.53,332.22L362.06,332.47L362.58,332.72L363.10,332.97L363.60,333.20L364.10,333.38L364.58,333.51L365.05,333.55L365.50,333.50L365.94,333.34L366.38,333.10L366.79,332.77L367.20,332.38L367.59,331.95L367.97,331.47L368.33,330.98L368.67,330.49L369.00,330.00L369.25,329.61L369.48,329.20L369.70,328.78L369.91,328.34L370.11,327.89L370.30,327.43L370.48,326.96L370.66,326.48L370.83,325.99L371.00,325.50L371.17,325.00L371.33,324.50L371.50,324.00L371.65,323.54L371.80,323.07L371.94,322.60L372.08,322.12L372.21,321.64L372.34,321.16L372.47,320.66L372.59,320.17L372.72,319.67L372.84,319.16L372.95,318.65L373.07,318.13L373.18,317.60L373.29,317.07L373.39,316.54L373.50,316.00L373.59,315.54L373.67,315.07L373.75,314.60L373.83,314.12L373.91,313.64L373.99,313.15L374.06,312.65L374.13,312.16L374.20,311.66L374.27,311.15L374.34,310.65L374.40,310.14L374.47,309.63L374.53,309.12L374.59,308.60L374.65,308.09L374.71,307.57L374.77,307.06L374.83,306.54L374.89,306.03L374.94,305.51L375.00,305.00L375.05,304.51L375.10,304.02L375.15,303.53L375.20,303.04L375.25,302.54L375.30,302.05L375.34,301.56L375.38,301.06L375.43,300.56L375.47,300.06L375.51,299.57L375.55,299.07L375.59,298.56L375.63,298.06L375.67,297.56L375.70,297.06L375.74,296.55L375.78,296.05L375.82,295.54L375.85,295.03L375.89,294.53L375.93,294.02L375.96,293.51L376.00,293.00L376.04,292.51L376.07,292.03L376.10,291.55L376.14,291.07L376.17,290.60L376.20,290.12L376.23,289.65L376.27,289.18L376.30,288.70L376.33,288.23L376.36,287.76L376.39,287.28L376.42,286.80L376.45,286.31L376.48,285.82L376.51,285.33L376.54,284.83L376.57,284.33L376.60,283.82L376.62,283.30L376.65,282.77L376.68,282.24L376.71,281.69L376.74,281.14L376.77,280.58L376.80,280.00L376.82,279.58L376.84,279.14L376.86,278.70L376.88,278.24L376.90,277.78L376.92,277.31L376.94,276.82L376.96,276.34L376.98,275.84L377.00,275.34L377.02,274.83L377.04,274.32L377.06,273.80L377.07,273.27L377.09,272.74L377.11,272.21L377.13,271.67L377.15,271.13L377.17,270.59L377.18,270.04L377.20,269.50L377.22,268.95L377.24,268.40L377.26,267.85L377.28,267.30L377.29,266.75L377.31,266.21L377.33,265.66L377.35,265.12L377.37,264.58L377.39,264.04L377.41,263.50L377.43,262.97L377.45,262.45L377.47,261.93L377.49,261.41L377.51,260.90L377.53,260.40L377.55,259.90L377.57,259.41L377.59,258.93L377.61,258.45L377.63,257.98L377.66,257.53L377.68,257.08L377.70,256.64L377.73,256.21L377.75,255.80L377.78,255.39L377.80,255.00L377.84,254.40L377.88,253.82L377.92,253.25L377.96,252.71L378.00,252.18L378.04,251.67L378.08,251.16L378.13,250.67L378.17,250.19L378.21,249.72L378.26,249.25L378.30,248.78L378.35,248.32L378.39,247.86L378.44,247.39L378.49,246.93L378.54,246.46L378.59,245.98L378.65,245.49L378.70,245.00L378.76,244.49L378.81,243.98L378.87,243.46L378.93,242.93L378.99,242.39L379.05,241.85L379.11,241.32L379.18,240.78L379.24,240.24L379.30,239.71L379.37,239.19L379.44,238.67L379.51,238.16L379.57,237.66L379.64,237.18L379.71,236.71L379.78,236.25L379.86,235.81L379.93,235.40L380.00,235.00L380.11,234.40L380.22,233.82L380.33,233.28L380.44,232.77L380.56,232.28L380.69,231.82L380.84,231.40L381.00,231.00L381.27,230.43L381.56,229.88L381.88,229.47L382.20,229.30L382.55,229.46L382.91,229.87L383.27,230.42L383.60,231.00L383.80,231.40L383.99,231.82L384.16,232.28L384.33,232.76L384.49,233.28L384.65,233.82L384.82,234.40L385.00,235.00L385.12,235.40L385.24,235.81L385.36,236.25L385.48,236.71L385.61,237.18L385.74,237.66L385.87,238.16L386.00,238.67L386.13,239.18L386.26,239.71L386.39,240.24L386.52,240.78L386.65,241.31L386.77,241.85L386.90,242.39L387.03,242.92L387.15,243.45L387.27,243.98L387.39,244.49L387.50,245.00L387.61,245.50L387.72,246.00L387.83,246.50L387.94,247.00L388.05,247.50L388.15,247.99L388.26,248.49L388.36,248.99L388.46,249.49L388.56,249.99L388.66,250.49L388.76,250.99L388.86,251.49L388.95,252.00L389.05,252.50L389.14,253.00L389.23,253.50L389.32,254.00L389.41,254.50L389.50,255.00L389.59,255.50L389.67,256.00L389.75,256.50L389.83,257.00L389.91,257.50L389.99,258.00L390.07,258.50L390.14,259.00L390.22,259.50L390.29,260.00L390.37,260.50L390.44,261.00L390.51,261.50L390.58,262.00L390.65,262.50L390.72,263.00L390.79,263.50L390.86,264.00L390.93,264.50L391.00,265.00L391.07,265.50L391.14,266.02L391.21,266.53L391.27,267.05L391.34,267.58L391.41,268.11L391.47,268.64L391.54,269.16L391.60,269.69L391.66,270.22L391.73,270.73L391.79,271.25L391.86,271.76L391.92,272.25L391.98,272.74L392.05,273.22L392.11,273.69L392.17,274.14L392.24,274.58L392.30,275.00L392.39,275.56L392.47,276.08L392.56,276.57L392.64,277.04L392.72,277.50L392.81,277.96L392.90,278.43L392.99,278.92L393.09,279.44L393.20,280.00L393.28,280.42L393.36,280.86L393.45,281.32L393.54,281.78L393.63,282.26L393.73,282.75L393.82,283.25L393.92,283.76L394.02,284.27L394.12,284.79L394.23,285.31L394.33,285.84L394.44,286.37L394.54,286.90L394.65,287.42L394.76,287.95L394.87,288.47L394.98,288.99L395.09,289.50L395.20,290.00L395.31,290.50L395.42,291.01L395.54,291.53L395.65,292.04L395.77,292.56L395.89,293.09L396.01,293.61L396.13,294.13L396.25,294.65L396.37,295.17L396.50,295.68L396.62,296.19L396.74,296.70L396.87,297.19L396.99,297.68L397.11,298.17L397.23,298.64L397.36,299.11L397.48,299.56L397.60,300.00L397.75,300.57L397.91,301.13L398.05,301.69L398.20,302.23L398.35,302.77L398.49,303.30L398.64,303.80L398.80,304.29L398.96,304.76L399.13,305.20L399.31,305.61L399.50,306.00L399.83,306.62L400.18,307.22L400.54,307.74L400.92,308.12L401.30,308.30L401.75,308.22L402.23,307.91L402.69,307.47L403.10,307.00L403.37,306.61L403.61,306.18L403.82,305.71L404.01,305.19L404.20,304.62L404.40,304.00L404.52,303.63L404.63,303.23L404.75,302.81L404.86,302.38L404.97,301.93L405.08,301.45L405.19,300.97L405.30,300.47L405.41,299.96L405.52,299.43L405.63,298.90L405.74,298.36L405.85,297.81L405.96,297.25L406.07,296.69L406.18,296.13L406.29,295.57L406.40,295.00L406.49,294.56L406.57,294.10L406.65,293.63L406.73,293.15L406.81,292.65L406.89,292.15L406.97,291.64L407.05,291.12L407.13,290.60L407.20,290.07L407.28,289.53L407.36,288.99L407.44,288.45L407.52,287.91L407.60,287.37L407.68,286.83L407.76,286.29L407.84,285.76L407.93,285.23L408.01,284.70L408.10,284.19L408.19,283.68L408.28,283.17L408.38,282.68L408.47,282.20L408.57,281.73L408.67,281.28L408.78,280.84L408.89,280.41L409.00,280.00L409.16,279.44L409.32,278.90L409.48,278.37L409.64,277.85L409.81,277.35L409.98,276.85L410.15,276.38L410.33,275.91L410.51,275.46L410.70,275.02L410.90,274.59L411.11,274.17L411.33,273.77L411.56,273.38L411.80,273.00L412.11,272.54L412.43,272.10L412.76,271.67L413.11,271.27L413.46,270.88L413.83,270.51L414.22,270.17L414.63,269.86L415.05,269.56L415.50,269.30L415.93,269.08L416.37,268.89L416.84,268.71L417.32,268.56L417.82,268.42L418.33,268.30L418.85,268.20L419.37,268.13L419.91,268.07L420.44,268.03L420.97,268.00L421.50,268.00L421.98,268.01L422.46,268.04L422.95,268.09L423.45,268.15L423.94,268.23L424.45,268.33L424.95,268.43L425.46,268.56L425.97,268.69L426.48,268.85L426.99,269.01L427.50,269.19L428.00,269.38L428.50,269.58L429.00,269.80L429.43,270.00L429.86,270.21L430.30,270.44L430.73,270.69L431.17,270.94L431.60,271.20L432.04,271.48L432.48,271.77L432.91,272.06L433.34,272.37L433.77,272.68L434.20,273.00L434.63,273.32L435.05,273.65L435.47,273.99L435.88,274.32L436.30,274.67L436.70,275.01L437.10,275.35L437.50,275.70L437.87,276.03L438.24,276.38L438.61,276.73L438.98,277.09L439.34,277.46L439.71,277.83L440.07,278.21L440.43,278.60L440.78,278.99L441.13,279.38L441.48,279.78L441.82,280.17L442.16,280.57L442.50,280.97L442.83,281.36L443.16,281.75L443.48,282.14L443.80,282.52L444.11,282.90L444.41,283.28L444.71,283.64L445.00,284.00L445.36,284.45L445.70,284.88L446.03,285.30L446.34,285.72L446.65,286.13L446.95,286.54L447.24,286.94L447.54,287.35L447.83,287.77L448.13,288.19L448.43,288.62L448.74,289.06L449.06,289.52L449.40,290.00L449.66,290.37L449.92,290.74L450.19,291.12L450.46,291.51L450.74,291.91L451.02,292.32L451.30,292.72L451.58,293.14L451.87,293.56L452.16,293.98L452.45,294.41L452.74,294.84L453.03,295.27L453.33,295.70L453.62,296.13L453.92,296.57L454.21,297.00L454.51,297.44L454.80,297.87L455.09,298.30L455.38,298.73L455.67,299.16L455.96,299.58L456.25,300.00L456.54,300.42L456.82,300.83L457.11,301.25L457.39,301.67L457.68,302.08L457.96,302.50L458.25,302.92L458.53,303.33L458.82,303.75L459.10,304.17L459.39,304.58L459.67,305.00L459.96,305.42L460.24,305.83L460.53,306.25L460.81,306.67L461.10,307.08L461.38,307.50L461.67,307.92L461.96,308.33L462.24,308.75L462.53,309.17L462.81,309.58L463.10,310.00L463.39,310.42L463.67,310.83L463.96,311.25L464.24,311.67L464.53,312.09L464.81,312.50L465.09,312.92L465.38,313.34L465.66,313.76L465.95,314.17L466.23,314.59L466.52,315.01L466.80,315.43L467.09,315.84L467.37,316.26L467.66,316.68L467.95,317.09L468.24,317.51L468.53,317.93L468.82,318.34L469.11,318.76L469.41,319.17L469.70,319.59L470.00,320.00L470.29,320.40L470.58,320.81L470.87,321.21L471.17,321.61L471.46,322.01L471.75,322.41L472.05,322.81L472.35,323.22L472.64,323.62L472.94,324.02L473.24,324.42L473.54,324.82L473.84,325.22L474.14,325.62L474.44,326.02L474.74,326.42L475.05,326.82L475.35,327.21L475.66,327.61L475.96,328.01L476.27,328.41L476.57,328.81L476.88,329.21L477.19,329.60L477.50,330.00L477.82,330.41L478.14,330.81L478.46,331.23L478.79,331.64L479.13,332.06L479.46,332.48L479.80,332.90L480.14,333.32L480.48,333.74L480.82,334.16L481.16,334.58L481.50,335.00L481.84,335.42L482.18,335.83L482.51,336.24L482.84,336.64L483.17,337.04L483.49,337.44L483.81,337.82L484.13,338.21L484.43,338.58L484.74,338.95L485.03,339.31L485.32,339.66L485.60,340.00L485.98,340.46L486.35,340.91L486.70,341.35L487.04,341.77L487.38,342.18L487.71,342.59L488.03,342.98L488.36,343.37L488.68,343.76L489.00,344.14L489.33,344.53L489.66,344.91L490.00,345.30L490.36,345.71L490.73,346.11L491.09,346.50L491.46,346.89L491.83,347.28L492.19,347.67L492.56,348.06L492.93,348.44L493.30,348.83L493.67,349.22L494.04,349.61L494.40,350.00L494.76,350.40L495.12,350.80L495.48,351.20L495.84,351.60L496.19,352.01L496.55,352.41L496.91,352.81L497.27,353.21L497.63,353.61L498.00,354.01L498.37,354.41L498.75,354.80L499.12,355.17L499.50,355.54L499.88,355.92L500.27,356.29L500.67,356.66L501.06,357.03L501.46,357.39L501.85,357.75L502.25,358.11L502.63,358.47L503.01,358.82L503.39,359.16L503.75,359.50L504.14,359.87L504.53,360.23L504.90,360.58L505.27,360.93L505.63,361.28L506.00,361.62L506.36,361.96L506.73,362.30L507.11,362.65L507.50,363.00L507.89,363.35L508.28,363.70L508.68,364.05L509.08,364.41L509.48,364.76L509.89,365.12L510.30,365.48L510.72,365.83L511.14,366.19L511.57,366.55L512.00,366.90L512.40,367.22L512.81,367.55L513.23,367.88L513.65,368.21L514.07,368.54L514.50,368.87L514.93,369.20L515.37,369.53L515.80,369.85L516.23,370.17L516.66,370.49L517.08,370.80L517.50,371.10L517.92,371.40L518.34,371.70L518.76,372.00L519.17,372.29L519.59,372.57L520.00,372.86L520.42,373.14L520.83,373.42L521.25,373.69L521.66,373.96L522.08,374.23L522.50,374.50L522.95,374.78L523.40,375.06L523.85,375.34L524.30,375.61L524.76,375.88L525.21,376.14L525.67,376.40L526.12,376.66L526.58,376.91L527.04,377.16L527.50,377.40L527.95,377.63L528.39,377.85L528.82,378.07L529.26,378.28L529.70,378.48L530.14,378.69L530.59,378.89L531.05,379.09L531.52,379.29L532.00,379.49L532.50,379.70L532.96,379.88L533.43,380.07L533.92,380.26L534.42,380.45L534.93,380.64L535.45,380.82L535.98,381.01L536.50,381.20L537.03,381.38L537.55,381.56L538.06,381.74L538.57,381.91L539.06,382.08L539.54,382.24L540.00,382.40L540.53,382.58L541.03,382.75L541.50,382.91L541.96,383.06L542.42,383.21L542.88,383.36L543.36,383.51L543.87,383.66L544.41,383.83L545.00,384.00L545.40,384.11L545.81,384.23L546.24,384.35L546.68,384.48L547.13,384.61L547.60,384.74L548.08,384.87L548.58,385.00L549.08,385.14L549.59,385.28L550.10,385.42L550.63,385.55L551.15,385.69L551.68,385.83L552.22,385.97L552.76,386.11L553.29,386.24L553.83,386.38L554.37,386.51L554.90,386.64L555.43,386.77L555.96,386.90L556.48,387.02L556.99,387.14L557.50,387.25L558.00,387.36L558.50,387.47L559.00,387.57L559.49,387.68L559.99,387.78L560.49,387.88L560.99,387.98L561.49,388.08L561.99,388.17L562.49,388.27L562.99,388.36L563.49,388.46L563.99,388.55L564.49,388.64L564.99,388.73L565.49,388.82L565.99,388.90L566.50,388.99L567.00,389.08L567.50,389.17L568.00,389.25L568.50,389.34L569.00,389.43L569.50,389.51L570.00,389.60L570.50,389.69L571.00,389.77L571.50,389.86L572.00,389.94L572.50,390.03L573.00,390.11L573.50,390.20L574.00,390.28L574.50,390.37L575.00,390.45L575.50,390.53L576.00,390.61L576.50,390.69L577.00,390.77L577.50,390.85L578.00,390.93L578.50,391.01L579.00,391.09L579.50,391.16L580.00,391.24L580.50,391.31L581.00,391.39L581.50,391.46L582.00,391.53L582.50,391.60L583.00,391.67L583.50,391.74L584.00,391.80L584.50,391.87L585.00,391.93L585.50,392.00L586.00,392.06L586.50,392.12L587.00,392.18L587.50,392.24L588.00,392.30L588.50,392.36L589.00,392.42L589.50,392.47L590.00,392.53L590.50,392.59L591.00,392.64L591.50,392.70L592.00,392.76L592.50,392.81L593.00,392.87L593.50,392.93L594.00,392.98L594.50,393.04L595.00,393.10L595.50,393.16L596.00,393.22L596.50,393.27L597.00,393.33L597.50,393.39L598.00,393.44L598.50,393.50L599.00,393.56L599.50,393.61L600.00,393.67L600.50,393.72L601.00,393.78L601.50,393.83L602.00,393.89L602.50,393.94L603.00,394.00L603.50,394.06L604.00,394.11L604.50,394.17L605.00,394.22L605.50,394.28L606.00,394.33L606.50,394.39L607.00,394.44L607.50,394.50L608.00,394.56L608.50,394.61L608.99,394.67L609.49,394.72L609.98,394.78L610.47,394.84L610.97,394.89L611.46,394.95L611.95,395.01L612.44,395.06L612.94,395.12L613.43,395.17L613.93,395.23L614.42,395.29L614.92,395.34L615.42,395.40L615.92,395.45L616.42,395.51L616.92,395.57L617.43,395.62L617.94,395.68L618.45,395.73L618.96,395.79L619.48,395.84L620.00,395.90L620.48,395.95L620.96,396.00L621.44,396.05L621.93,396.10L622.42,396.16L622.91,396.21L623.41,396.26L623.90,396.31L624.40,396.36L624.90,396.41L625.40,396.47L625.90,396.52L626.40,396.57L626.91,396.62L627.41,396.67L627.92,396.72L628.43,396.77L628.93,396.82L629.44,396.87L629.95,396.92L630.46,396.97L630.96,397.02L631.47,397.07L631.98,397.12L632.48,397.17L632.99,397.22L633.49,397.26L634.00,397.31L634.50,397.35L635.00,397.40L635.50,397.44L636.00,397.49L636.50,397.53L637.00,397.58L637.50,397.62L638.00,397.66L638.50,397.71L639.00,397.75L639.50,397.79L640.00,397.83L640.50,397.87L641.00,397.92L641.50,397.96L642.00,398.00L642.50,398.04L643.00,398.08L643.50,398.12L644.00,398.16L644.50,398.19L645.00,398.23L645.50,398.27L646.00,398.31L646.50,398.35L647.00,398.38L647.50,398.42L648.00,398.46L648.50,398.49L649.00,398.53L649.50,398.56L650.00,398.60L650.50,398.63L651.00,398.67L651.50,398.70L652.00,398.74L652.50,398.77L653.00,398.80L653.50,398.84L654.00,398.87L654.50,398.90L655.00,398.93L655.50,398.96L656.00,399.00L656.50,399.03L657.00,399.06L657.50,399.09L658.00,399.12L658.50,399.15L659.00,399.18L659.50,399.20L660.00,399.23L660.50,399.26L661.00,399.29L661.50,399.32L662.00,399.34L662.50,399.37L663.00,399.40L663.50,399.42L664.00,399.45L664.50,399.47L665.00,399.50L665.50,399.52L666.00,399.55L666.50,399.57L667.00,399.60L667.50,399.62L668.00,399.64L668.50,399.67L669.00,399.69L669.50,399.71L670.00,399.73L670.50,399.75L671.00,399.78L671.50,399.80L672.00,399.82L672.50,399.84L673.00,399.86L673.50,399.88L674.00,399.90L674.50,399.91L675.00,399.93L675.50,399.95L676.00,399.97L676.50,399.99L677.00,400.00L677.50,400.02L678.00,400.04L678.50,400.05L679.00,400.07L679.50,400.08L680.00,400.10L680.50,400.11L681.01,400.13L681.51,400.14L682.02,400.16L682.54,400.17L683.05,400.18L683.57,400.20L684.08,400.21L684.60,400.22L685.12,400.23L685.64,400.25L686.16,400.26L686.67,400.27L687.19,400.28L687.70,400.29L688.22,400.30L688.73,400.31L689.23,400.32L689.74,400.33L690.24,400.34L690.74,400.34L691.23,400.35L691.72,400.36L692.21,400.37L692.69,400.37L693.16,400.38L693.63,400.38L694.09,400.39L694.55,400.40L695.00,400.40L695.56,400.41L696.11,400.41L696.65,400.41L697.18,400.41L697.70,400.42L698.22,400.42L698.73,400.42L699.23,400.42L699.73,400.41L700.23,400.41L700.72,400.41L701.22,400.41L701.71,400.41L702.20,400.41L702.69,400.40L703.19,400.40L703.69,400.40L704.19,400.40L704.70,400.40" stroke="#8E0000"/>
<path d="M110.70,478.90L111.13,478.62L111.57,478.35L112.01,478.08L112.45,477.80L112.89,477.53L113.34,477.26L113.78,476.98L114.23,476.71L114.67,476.44L115.10,476.16L115.54,475.89L115.97,475.61L116.39,475.33L116.80,475.05L117.21,474.77L117.61,474.49L118.00,474.20L118.45,473.87L118.90,473.55L119.34,473.22L119.79,472.91L120.22,472.59L120.65,472.26L121.06,471.93L121.47,471.60L121.85,471.25L122.22,470.89L122.57,470.51L122.90,470.12L123.20,469.70L123.46,469.29L123.69,468.88L123.91,468.45L124.10,468.02L124.28,467.57L124.44,467.11L124.59,466.64L124.73,466.16L124.86,465.67L124.99,465.16L125.12,464.64L125.24,464.11L125.37,463.56L125.50,463.00L125.59,462.58L125.69,462.16L125.77,461.72L125.86,461.27L125.94,460.81L126.02,460.34L126.10,459.87L126.17,459.38L126.24,458.89L126.31,458.39L126.38,457.89L126.45,457.38L126.51,456.86L126.57,456.34L126.63,455.82L126.69,455.29L126.75,454.77L126.81,454.24L126.86,453.71L126.92,453.18L126.97,452.64L127.03,452.11L127.08,451.59L127.14,451.06L127.19,450.54L127.25,450.02L127.30,449.50L127.35,449.01L127.40,448.52L127.45,448.03L127.50,447.54L127.54,447.05L127.59,446.55L127.63,446.06L127.68,445.56L127.72,445.06L127.76,444.56L127.80,444.06L127.84,443.56L127.88,443.06L127.92,442.56L127.96,442.05L127.99,441.55L128.03,441.04L128.07,440.54L128.10,440.04L128.14,439.53L128.18,439.03L128.21,438.52L128.25,438.02L128.28,437.51L128.32,437.01L128.36,436.51L128.39,436.00L128.43,435.50L128.46,435.00L128.50,434.50L128.54,434.00L128.57,433.50L128.61,433.00L128.64,432.50L128.68,432.00L128.71,431.50L128.75,431.00L128.78,430.50L128.82,430.00L128.85,429.50L128.89,429.00L128.92,428.50L128.95,428.00L128.99,427.50L129.02,427.00L129.05,426.50L129.08,426.00L129.12,425.50L129.15,425.00L129.18,424.50L129.21,424.00L129.25,423.50L129.28,423.00L129.31,422.50L129.34,422.00L129.37,421.50L129.40,421.00L129.44,420.50L129.47,420.00L129.50,419.50L129.53,419.00L129.56,418.48L129.60,417.96L129.63,417.43L129.66,416.90L129.69,416.36L129.72,415.82L129.75,415.27L129.78,414.72L129.82,414.18L129.85,413.63L129.88,413.08L129.91,412.53L129.94,411.99L129.97,411.45L130.00,410.92L130.03,410.39L130.06,409.87L130.09,409.35L130.12,408.85L130.15,408.36L130.18,407.87L130.21,407.40L130.24,406.94L130.26,406.49L130.29,406.06L130.32,405.64L130.35,405.25L130.37,404.86L130.40,404.50L130.45,403.90L130.49,403.38L130.54,402.92L130.58,402.50L130.63,402.08L130.67,401.64L130.72,401.17L130.76,400.63L130.80,400.00L130.82,399.67L130.84,399.32L130.86,398.96L130.88,398.58L130.90,398.18L130.92,397.77L130.93,397.35L130.95,396.91L130.97,396.46L130.99,396.00L131.01,395.53L131.02,395.05L131.04,394.56L131.06,394.06L131.08,393.55L131.09,393.03L131.11,392.50L131.13,391.97L131.15,391.43L131.16,390.89L131.18,390.35L131.20,389.79L131.21,389.24L131.23,388.69L131.25,388.13L131.26,387.57L131.28,387.01L131.30,386.45L131.31,385.89L131.33,385.33L131.35,384.78L131.36,384.23L131.38,383.68L131.40,383.14L131.41,382.60L131.43,382.06L131.45,381.54L131.47,381.02L131.48,380.50L131.50,380.00L131.52,379.50L131.53,379.00L131.55,378.50L131.57,378.00L131.59,377.50L131.60,377.00L131.62,376.50L131.64,376.00L131.66,375.50L131.67,375.00L131.69,374.50L131.71,374.00L131.72,373.50L131.74,373.00L131.76,372.50L131.78,372.00L131.79,371.50L131.81,371.00L131.83,370.50L131.84,370.00L131.86,369.50L131.88,369.00L131.90,368.50L131.91,368.00L131.93,367.50L131.95,367.00L131.97,366.50L131.98,366.00L132.00,365.50L132.02,365.00L132.04,364.50L132.05,364.00L132.07,363.50L132.09,363.00L132.11,362.50L132.13,362.00L132.14,361.50L132.16,361.00L132.18,360.50L132.20,360.00L132.22,359.50L132.24,359.00L132.26,358.49L132.28,357.99L132.30,357.48L132.32,356.97L132.34,356.46L132.36,355.95L132.38,355.44L132.40,354.93L132.42,354.42L132.44,353.91L132.47,353.40L132.49,352.89L132.51,352.37L132.53,351.86L132.55,351.35L132.57,350.84L132.59,350.33L132.62,349.82L132.64,349.31L132.66,348.80L132.68,348.30L132.70,347.79L132.72,347.29L132.74,346.79L132.76,346.29L132.78,345.79L132.80,345.29L132.82,344.80L132.84,344.31L132.86,343.82L132.88,343.33L132.90,342.84L132.92,342.36L132.93,341.88L132.95,341.41L132.97,340.94L132.98,340.47L133.00,340.00L133.02,339.47L133.03,338.94L133.05,338.41L133.07,337.89L133.08,337.38L133.10,336.86L133.11,336.35L133.13,335.85L133.14,335.34L133.15,334.84L133.17,334.34L133.18,333.85L133.19,333.35L133.20,332.86L133.22,332.37L133.23,331.88L133.24,331.39L133.25,330.90L133.26,330.41L133.28,329.92L133.29,329.43L133.30,328.94L133.31,328.46L133.32,327.97L133.34,327.48L133.35,326.98L133.36,326.49L133.37,326.00L133.39,325.50L133.40,325.00L133.41,324.50L133.43,324.00L133.44,323.51L133.45,323.02L133.47,322.52L133.48,322.03L133.49,321.54L133.51,321.06L133.52,320.57L133.53,320.08L133.55,319.59L133.56,319.10L133.57,318.61L133.58,318.13L133.60,317.63L133.61,317.14L133.62,316.65L133.64,316.16L133.65,315.66L133.66,315.16L133.68,314.66L133.69,314.15L133.70,313.65L133.72,313.14L133.73,312.62L133.75,312.11L133.76,311.59L133.77,311.06L133.79,310.53L133.80,310.00L133.81,309.53L133.82,309.06L133.84,308.59L133.85,308.12L133.86,307.64L133.87,307.16L133.89,306.67L133.90,306.18L133.91,305.69L133.92,305.20L133.93,304.71L133.95,304.21L133.96,303.71L133.97,303.21L133.98,302.71L134.00,302.21L134.01,301.70L134.02,301.20L134.03,300.69L134.05,300.18L134.06,299.67L134.07,299.16L134.09,298.65L134.10,298.14L134.11,297.63L134.12,297.11L134.14,296.60L134.15,296.09L134.16,295.58L134.17,295.07L134.19,294.56L134.20,294.05L134.21,293.54L134.22,293.03L134.24,292.52L134.25,292.01L134.26,291.51L134.27,291.00L134.29,290.50L134.30,290.00L134.31,289.50L134.33,289.00L134.34,288.50L134.35,288.00L134.36,287.49L134.38,286.99L134.39,286.49L134.40,285.98L134.41,285.48L134.43,284.98L134.44,284.47L134.45,283.97L134.46,283.46L134.48,282.96L134.49,282.45L134.50,281.95L134.51,281.45L134.53,280.94L134.54,280.44L134.55,279.93L134.56,279.43L134.58,278.93L134.59,278.43L134.60,277.92L134.61,277.42L134.63,276.92L134.64,276.42L134.65,275.92L134.66,275.42L134.68,274.93L134.69,274.43L134.70,273.93L134.71,273.44L134.73,272.94L134.74,272.45L134.75,271.96L134.76,271.47L134.78,270.98L134.79,270.49L134.80,270.00L134.81,269.49L134.83,268.97L134.84,268.45L134.85,267.93L134.86,267.41L134.88,266.88L134.89,266.36L134.90,265.84L134.91,265.31L134.93,264.78L134.94,264.26L134.95,263.74L134.96,263.21L134.98,262.69L134.99,262.17L135.00,261.65L135.01,261.13L135.03,260.61L135.04,260.10L135.05,259.59L135.06,259.08L135.07,258.57L135.09,258.07L135.10,257.58L135.11,257.08L135.12,256.59L135.14,256.11L135.15,255.63L135.16,255.15L135.17,254.68L135.19,254.22L135.20,253.76L135.21,253.31L135.22,252.87L135.24,252.43L135.25,252.00L135.27,251.43L135.28,250.88L135.30,250.34L135.32,249.81L135.34,249.29L135.35,248.79L135.37,248.28L135.39,247.79L135.40,247.30L135.42,246.82L135.44,246.34L135.46,245.86L135.47,245.38L135.49,244.91L135.51,244.43L135.53,243.95L135.54,243.47L135.56,242.99L135.58,242.50L135.60,242.00L135.62,241.50L135.64,241.00L135.66,240.50L135.68,240.00L135.70,239.50L135.72,239.00L135.74,238.50L135.76,238.00L135.78,237.50L135.81,237.00L135.83,236.50L135.85,236.00L135.87,235.50L135.89,235.00L135.91,234.50L135.93,234.00L135.95,233.50L135.97,233.00L135.98,232.50L136.00,232.00L136.02,231.50L136.03,230.99L136.05,230.48L136.06,229.97L136.07,229.46L136.08,228.94L136.10,228.43L136.11,227.91L136.12,227.40L136.13,226.89L136.14,226.38L136.15,225.87L136.16,225.37L136.18,224.87L136.19,224.37L136.20,223.89L136.21,223.40L136.22,222.93L136.24,222.46L136.25,222.00L136.27,221.46L136.28,220.92L136.30,220.40L136.32,219.87L136.33,219.36L136.35,218.85L136.37,218.35L136.38,217.85L136.40,217.36L136.42,216.88L136.44,216.40L136.46,215.93L136.48,215.46L136.50,215.00L136.53,214.46L136.55,213.94L136.58,213.43L136.60,212.93L136.63,212.43L136.66,211.94L136.69,211.45L136.72,210.97L136.76,210.49L136.80,210.00L136.84,209.48L136.88,208.95L136.91,208.42L136.95,207.89L137.00,207.37L137.05,206.86L137.12,206.38L137.20,205.92L137.30,205.50L137.51,204.78L137.77,204.07L138.04,203.52L138.30,203.30L138.56,203.52L138.83,204.07L139.08,204.78L139.30,205.50L139.41,205.92L139.51,206.38L139.59,206.86L139.66,207.37L139.72,207.89L139.79,208.42L139.85,208.95L139.92,209.48L140.00,210.00L140.08,210.49L140.17,210.98L140.25,211.48L140.34,211.98L140.43,212.48L140.52,212.99L140.61,213.49L140.69,213.99L140.77,214.50L140.85,215.00L140.92,215.50L141.00,216.00L141.06,216.50L141.13,217.00L141.20,217.50L141.26,218.00L141.32,218.50L141.38,219.00L141.44,219.50L141.50,220.00L141.56,220.50L141.61,220.99L141.66,221.47L141.71,221.96L141.76,222.45L141.81,222.94L141.85,223.44L141.90,223.95L141.95,224.47L142.00,225.00L142.04,225.46L142.08,225.93L142.12,226.40L142.16,226.88L142.20,227.36L142.25,227.85L142.29,228.35L142.33,228.85L142.37,229.36L142.41,229.88L142.46,230.40L142.50,230.92L142.55,231.46L142.60,232.00L142.64,232.46L142.69,232.93L142.74,233.40L142.78,233.89L142.83,234.38L142.88,234.87L142.94,235.37L142.99,235.87L143.04,236.38L143.09,236.89L143.15,237.40L143.20,237.91L143.25,238.43L143.30,238.94L143.36,239.46L143.41,239.97L143.46,240.48L143.51,240.99L143.55,241.50L143.60,242.00L143.64,242.50L143.69,242.99L143.73,243.49L143.77,243.98L143.82,244.47L143.86,244.96L143.90,245.45L143.94,245.94L143.98,246.43L144.02,246.92L144.06,247.41L144.10,247.90L144.13,248.40L144.17,248.90L144.21,249.41L144.25,249.92L144.29,250.43L144.32,250.95L144.36,251.47L144.40,252.00L144.43,252.47L144.47,252.94L144.50,253.42L144.53,253.90L144.56,254.38L144.59,254.86L144.62,255.35L144.65,255.84L144.68,256.34L144.71,256.83L144.74,257.33L144.77,257.83L144.80,258.34L144.83,258.84L144.86,259.35L144.89,259.85L144.92,260.36L144.95,260.88L144.98,261.39L145.01,261.90L145.04,262.42L145.07,262.93L145.10,263.45L145.13,263.96L145.17,264.48L145.20,265.00L145.23,265.48L145.26,265.96L145.29,266.44L145.33,266.92L145.36,267.39L145.39,267.87L145.42,268.35L145.45,268.82L145.49,269.30L145.52,269.78L145.55,270.26L145.59,270.74L145.62,271.22L145.65,271.71L145.69,272.19L145.72,272.68L145.75,273.18L145.79,273.67L145.82,274.17L145.86,274.68L145.89,275.19L145.92,275.70L145.96,276.22L145.99,276.74L146.03,277.27L146.06,277.80L146.10,278.34L146.13,278.89L146.17,279.44L146.20,280.00L146.23,280.44L146.25,280.88L146.28,281.34L146.31,281.79L146.34,282.26L146.36,282.72L146.39,283.19L146.42,283.67L146.45,284.15L146.47,284.64L146.50,285.13L146.53,285.62L146.56,286.12L146.59,286.62L146.62,287.12L146.65,287.63L146.67,288.14L146.70,288.65L146.73,289.16L146.76,289.68L146.79,290.19L146.82,290.71L146.85,291.23L146.87,291.75L146.90,292.28L146.93,292.80L146.96,293.32L146.99,293.85L147.02,294.37L147.05,294.90L147.08,295.42L147.10,295.94L147.13,296.46L147.16,296.98L147.19,297.50L147.22,298.02L147.25,298.54L147.27,299.05L147.30,299.57L147.33,300.08L147.36,300.58L147.38,301.09L147.41,301.59L147.44,302.09L147.47,302.58L147.49,303.08L147.52,303.56L147.55,304.05L147.57,304.53L147.60,305.00L147.63,305.53L147.66,306.05L147.69,306.58L147.71,307.10L147.74,307.63L147.77,308.15L147.80,308.67L147.82,309.19L147.85,309.71L147.88,310.22L147.90,310.74L147.93,311.25L147.95,311.77L147.98,312.28L148.00,312.79L148.03,313.30L148.06,313.81L148.08,314.31L148.11,314.82L148.13,315.32L148.16,315.82L148.18,316.32L148.21,316.82L148.24,317.32L148.26,317.81L148.29,318.30L148.32,318.79L148.34,319.28L148.37,319.77L148.40,320.26L148.43,320.74L148.45,321.22L148.48,321.70L148.51,322.18L148.54,322.65L148.57,323.13L148.60,323.60L148.64,324.07L148.67,324.54L148.70,325.00L148.74,325.54L148.78,326.07L148.82,326.60L148.86,327.13L148.90,327.66L148.94,328.19L148.98,328.71L149.02,329.24L149.06,329.76L149.10,330.27L149.15,330.79L149.19,331.30L149.23,331.81L149.27,332.32L149.32,332.83L149.36,333.33L149.41,333.83L149.45,334.32L149.50,334.82L149.54,335.31L149.59,335.79L149.63,336.28L149.68,336.75L149.72,337.23L149.77,337.70L149.81,338.17L149.86,338.63L149.91,339.09L149.95,339.55L150.00,340.00L150.06,340.55L150.11,341.08L150.17,341.61L150.23,342.13L150.28,342.64L150.34,343.15L150.40,343.65L150.45,344.15L150.51,344.64L150.57,345.13L150.63,345.62L150.69,346.10L150.75,346.58L150.81,347.07L150.87,347.55L150.93,348.03L151.00,348.52L151.06,349.01L151.13,349.50L151.20,350.00L151.27,350.50L151.34,351.00L151.41,351.50L151.49,352.00L151.56,352.50L151.63,353.00L151.71,353.50L151.78,354.00L151.86,354.50L151.94,355.01L152.02,355.51L152.10,356.01L152.18,356.51L152.26,357.00L152.35,357.50L152.44,358.00L152.52,358.50L152.61,359.00L152.71,359.50L152.80,360.00L152.90,360.50L152.99,361.01L153.09,361.53L153.19,362.05L153.28,362.57L153.38,363.09L153.48,363.61L153.59,364.14L153.69,364.66L153.80,365.18L153.91,365.69L154.02,366.20L154.13,366.71L154.24,367.20L154.36,367.69L154.48,368.18L154.61,368.65L154.74,369.11L154.87,369.56L155.00,370.00L155.17,370.52L155.33,371.04L155.50,371.54L155.67,372.04L155.84,372.52L156.02,373.00L156.20,373.46L156.40,373.91L156.60,374.35L156.80,374.78L157.02,375.20L157.26,375.61L157.50,376.00L157.80,376.44L158.13,376.88L158.48,377.32L158.84,377.73L159.21,378.13L159.58,378.51L159.95,378.86L160.31,379.18L160.67,379.46L161.00,379.70L161.51,380.01L161.99,380.24L162.48,380.40L163.00,380.50L163.47,380.55L163.95,380.56L164.44,380.52L164.96,380.40L165.50,380.20L165.83,380.03L166.18,379.81L166.54,379.55L166.91,379.26L167.28,378.93L167.67,378.58L168.06,378.21L168.46,377.81L168.86,377.41L169.26,377.00L169.66,376.59L170.07,376.18L170.46,375.77L170.86,375.38L171.25,375.00L171.62,374.65L171.99,374.28L172.36,373.90L172.74,373.51L173.12,373.12L173.51,372.72L173.89,372.32L174.27,371.92L174.65,371.52L175.02,371.13L175.40,370.75L175.76,370.37L176.13,370.01L176.48,369.67L176.83,369.34L177.17,369.04L177.50,368.75L177.97,368.36L178.43,367.99L178.87,367.65L179.30,367.33L179.73,367.04L180.15,366.77L180.58,366.52L181.00,366.30L181.56,366.03L182.11,365.78L182.66,365.58L183.21,365.45L183.75,365.40L184.27,365.44L184.79,365.56L185.30,365.73L185.81,365.95L186.30,366.20L186.72,366.43L187.12,366.69L187.52,366.98L187.91,367.30L188.32,367.67L188.75,368.10L189.01,368.38L189.28,368.69L189.56,369.03L189.83,369.38L190.12,369.76L190.41,370.16L190.70,370.57L190.99,370.99L191.29,371.42L191.59,371.87L191.90,372.31L192.20,372.77L192.51,373.22L192.82,373.67L193.13,374.12L193.44,374.56L193.75,375.00L194.03,375.39L194.32,375.79L194.60,376.19L194.89,376.59L195.18,377.00L195.47,377.40L195.76,377.81L196.05,378.23L196.35,378.64L196.65,379.06L196.94,379.48L197.24,379.90L197.54,380.32L197.85,380.75L198.15,381.17L198.45,381.60L198.76,382.03L199.07,382.46L199.38,382.89L199.69,383.32L200.00,383.75L200.29,384.15L200.58,384.54L200.87,384.94L201.16,385.34L201.46,385.74L201.75,386.15L202.05,386.55L202.35,386.96L202.65,387.36L202.96,387.77L203.26,388.18L203.56,388.59L203.87,389.00L204.17,389.41L204.48,389.83L204.78,390.24L205.09,390.66L205.39,391.07L205.70,391.49L206.00,391.91L206.30,392.32L206.60,392.74L206.90,393.16L207.20,393.58L207.50,394.00L207.79,394.41L208.08,394.82L208.37,395.23L208.65,395.64L208.94,396.04L209.22,396.45L209.50,396.85L209.78,397.26L210.06,397.66L210.34,398.07L210.62,398.48L210.91,398.89L211.19,399.30L211.47,399.71L211.75,400.13L212.04,400.55L212.32,400.97L212.61,401.40L212.90,401.83L213.19,402.27L213.49,402.71L213.78,403.15L214.08,403.61L214.38,404.06L214.69,404.53L215.00,405.00L215.25,405.38L215.50,405.77L215.75,406.17L216.01,406.57L216.27,406.98L216.54,407.40L216.80,407.83L217.07,408.26L217.34,408.70L217.62,409.14L217.89,409.59L218.17,410.04L218.44,410.49L218.72,410.95L219.00,411.41L219.28,411.87L219.57,412.33L219.85,412.80L220.13,413.26L220.41,413.72L220.69,414.18L220.98,414.65L221.26,415.11L221.54,415.56L221.82,416.02L222.10,416.47L222.37,416.92L222.65,417.36L222.92,417.80L223.19,418.23L223.46,418.66L223.73,419.08L224.00,419.49L224.26,419.90L224.52,420.30L224.77,420.69L225.03,421.07L225.28,421.44L225.52,421.81L225.76,422.16L226.00,422.50L226.35,422.99L226.68,423.46L227.01,423.93L227.34,424.37L227.66,424.81L227.98,425.23L228.29,425.64L228.60,426.05L228.90,426.45L229.21,426.84L229.51,427.22L229.81,427.60L230.12,427.97L230.43,428.34L230.73,428.72L231.04,429.08L231.36,429.45L231.68,429.83L232.00,430.20L232.34,430.60L232.69,431.00L233.04,431.40L233.39,431.80L233.74,432.21L234.10,432.61L234.45,433.01L234.81,433.40L235.17,433.78L235.52,434.16L235.88,434.52L236.23,434.87L236.59,435.21L236.94,435.54L237.30,435.84L237.65,436.13L238.00,436.40L238.46,436.73L238.93,437.06L239.40,437.37L239.87,437.66L240.34,437.93L240.80,438.16L241.25,438.37L241.69,438.53L242.11,438.64L242.50,438.70L243.15,438.69L243.76,438.55L244.32,438.31L244.80,438.00L245.18,437.62L245.47,437.17L245.73,436.63L246.00,436.00L246.15,435.64L246.30,435.24L246.45,434.82L246.60,434.36L246.75,433.88L246.90,433.38L247.05,432.86L247.20,432.33L247.34,431.78L247.48,431.23L247.62,430.67L247.75,430.11L247.88,429.55L248.00,429.00L248.10,428.54L248.19,428.08L248.28,427.60L248.37,427.12L248.45,426.63L248.53,426.14L248.61,425.64L248.69,425.14L248.77,424.63L248.84,424.12L248.91,423.61L248.98,423.09L249.05,422.58L249.12,422.06L249.18,421.55L249.25,421.03L249.31,420.52L249.37,420.01L249.44,419.50L249.50,419.00L249.56,418.50L249.62,418.01L249.68,417.51L249.74,417.02L249.79,416.52L249.85,416.03L249.90,415.54L249.95,415.05L250.00,414.55L250.05,414.06L250.10,413.56L250.15,413.07L250.20,412.57L250.24,412.07L250.29,411.57L250.33,411.06L250.37,410.55L250.42,410.04L250.46,409.52L250.50,409.00L250.54,408.52L250.57,408.04L250.61,407.55L250.64,407.06L250.67,406.57L250.71,406.08L250.74,405.58L250.77,405.08L250.80,404.58L250.83,404.08L250.85,403.57L250.88,403.07L250.91,402.56L250.94,402.06L250.96,401.55L250.99,401.04L251.02,400.53L251.04,400.03L251.07,399.52L251.09,399.01L251.12,398.51L251.15,398.00L251.17,397.50L251.20,397.00L251.23,396.50L251.25,396.02L251.28,395.54L251.31,395.06L251.33,394.59L251.36,394.13L251.39,393.66L251.41,393.20L251.44,392.74L251.46,392.27L251.49,391.81L251.51,391.34L251.54,390.86L251.56,390.38L251.59,389.90L251.61,389.40L251.64,388.90L251.66,388.38L251.68,387.85L251.71,387.31L251.73,386.76L251.75,386.19L251.78,385.60L251.80,385.00L251.81,384.61L251.83,384.21L251.84,383.80L251.86,383.38L251.87,382.95L251.88,382.52L251.89,382.08L251.91,381.63L251.92,381.17L251.93,380.71L251.94,380.24L251.96,379.77L251.97,379.29L251.98,378.80L251.99,378.31L252.00,377.81L252.02,377.31L252.03,376.80L252.04,376.29L252.05,375.78L252.06,375.26L252.07,374.74L252.08,374.21L252.09,373.68L252.10,373.15L252.12,372.62L252.13,372.08L252.14,371.54L252.15,371.01L252.16,370.47L252.17,369.92L252.18,369.38L252.19,368.84L252.20,368.30L252.21,367.75L252.22,367.21L252.23,366.67L252.24,366.13L252.25,365.59L252.27,365.05L252.28,364.51L252.29,363.98L252.30,363.45L252.31,362.92L252.32,362.39L252.33,361.87L252.34,361.35L252.35,360.83L252.37,360.31L252.38,359.81L252.39,359.30L252.40,358.80L252.41,358.31L252.42,357.82L252.44,357.33L252.45,356.85L252.46,356.38L252.47,355.91L252.49,355.45L252.50,355.00L252.52,354.45L252.53,353.91L252.55,353.37L252.57,352.84L252.58,352.31L252.60,351.78L252.62,351.26L252.64,350.74L252.65,350.23L252.67,349.72L252.69,349.21L252.71,348.70L252.73,348.20L252.74,347.70L252.76,347.20L252.78,346.71L252.80,346.22L252.82,345.72L252.84,345.24L252.86,344.75L252.87,344.26L252.89,343.77L252.91,343.29L252.93,342.81L252.95,342.32L252.97,341.84L252.98,341.36L253.00,340.87L253.02,340.39L253.04,339.91L253.05,339.42L253.07,338.94L253.09,338.45L253.10,337.96L253.12,337.47L253.14,336.98L253.15,336.49L253.17,336.00L253.18,335.50L253.20,335.00L253.21,334.50L253.23,334.00L253.24,333.50L253.26,333.00L253.27,332.50L253.28,332.00L253.29,331.50L253.30,331.00L253.32,330.50L253.33,330.00L253.34,329.50L253.35,329.00L253.36,328.50L253.37,328.00L253.38,327.50L253.39,327.00L253.40,326.50L253.41,326.00L253.42,325.50L253.43,325.00L253.44,324.50L253.45,324.00L253.46,323.50L253.47,323.00L253.48,322.50L253.50,322.00L253.51,321.50L253.52,321.00L253.53,320.50L253.54,320.00L253.56,319.50L253.57,319.00L253.59,318.50L253.60,318.00L253.61,317.50L253.63,317.00L253.65,316.50L253.66,316.00L253.68,315.50L253.70,315.00L253.72,314.50L253.74,314.00L253.76,313.49L253.77,312.99L253.79,312.48L253.81,311.97L253.83,311.46L253.84,310.95L253.86,310.44L253.88,309.93L253.90,309.42L253.92,308.91L253.93,308.39L253.95,307.88L253.97,307.37L253.99,306.86L254.01,306.35L254.03,305.84L254.05,305.32L254.07,304.82L254.10,304.31L254.12,303.80L254.14,303.29L254.17,302.79L254.19,302.28L254.22,301.78L254.25,301.28L254.27,300.78L254.30,300.29L254.33,299.79L254.36,299.30L254.40,298.81L254.43,298.32L254.46,297.84L254.50,297.36L254.54,296.88L254.58,296.41L254.62,295.93L254.66,295.47L254.70,295.00L254.75,294.46L254.81,293.92L254.87,293.38L254.93,292.84L254.99,292.30L255.05,291.76L255.12,291.22L255.19,290.68L255.26,290.14L255.33,289.60L255.40,289.07L255.47,288.54L255.55,288.01L255.62,287.49L255.70,286.97L255.78,286.46L255.85,285.95L255.93,285.45L256.01,284.95L256.08,284.46L256.16,283.97L256.23,283.50L256.31,283.03L256.38,282.57L256.46,282.11L256.53,281.67L256.60,281.24L256.67,280.81L256.73,280.40L256.80,280.00L256.89,279.40L256.98,278.83L257.06,278.26L257.14,277.72L257.22,277.19L257.30,276.68L257.38,276.18L257.46,275.70L257.55,275.23L257.65,274.78L257.76,274.34L257.87,273.91L258.00,273.50L258.19,272.92L258.41,272.31L258.63,271.71L258.86,271.16L259.11,270.72L259.35,270.42L259.60,270.30L259.86,270.40L260.13,270.70L260.41,271.14L260.69,271.69L260.97,272.30L261.24,272.91L261.50,273.50L261.68,273.91L261.85,274.33L262.02,274.77L262.18,275.22L262.34,275.69L262.50,276.17L262.65,276.67L262.81,277.18L262.96,277.71L263.12,278.26L263.28,278.82L263.44,279.40L263.60,280.00L263.71,280.40L263.82,280.81L263.93,281.23L264.05,281.67L264.16,282.11L264.28,282.56L264.39,283.02L264.51,283.49L264.63,283.97L264.74,284.45L264.86,284.94L264.98,285.44L265.10,285.94L265.22,286.45L265.34,286.96L265.46,287.48L265.57,288.01L265.69,288.53L265.81,289.06L265.92,289.60L266.04,290.13L266.15,290.67L266.26,291.21L266.37,291.75L266.48,292.29L266.59,292.84L266.69,293.38L266.80,293.92L266.90,294.46L267.00,295.00L267.08,295.46L267.17,295.93L267.25,296.40L267.33,296.88L267.41,297.36L267.49,297.84L267.57,298.32L267.65,298.81L267.72,299.30L267.80,299.79L267.88,300.28L267.95,300.78L268.03,301.28L268.10,301.78L268.17,302.28L268.24,302.78L268.31,303.29L268.38,303.79L268.45,304.30L268.52,304.81L268.59,305.32L268.66,305.83L268.73,306.34L268.79,306.85L268.86,307.36L268.93,307.88L268.99,308.39L269.06,308.90L269.12,309.41L269.18,309.93L269.25,310.44L269.31,310.95L269.37,311.46L269.43,311.97L269.50,312.48L269.56,312.98L269.62,313.49L269.68,314.00L269.74,314.50L269.80,315.00L269.86,315.50L269.92,316.00L269.97,316.50L270.03,317.00L270.09,317.50L270.14,318.00L270.19,318.50L270.25,319.00L270.30,319.50L270.35,320.00L270.40,320.50L270.45,321.00L270.50,321.50L270.55,322.00L270.60,322.50L270.65,323.00L270.70,323.50L270.74,324.00L270.79,324.50L270.84,325.00L270.88,325.50L270.93,326.00L270.98,326.50L271.02,327.00L271.07,327.50L271.12,328.00L271.16,328.50L271.21,329.00L271.26,329.50L271.30,330.00L271.35,330.50L271.40,331.00L271.45,331.50L271.50,332.00L271.55,332.50L271.60,333.00L271.65,333.50L271.70,334.00L271.75,334.50L271.80,335.00L271.85,335.50L271.91,336.00L271.96,336.50L272.01,337.00L272.06,337.50L272.12,338.00L272.17,338.50L272.22,339.00L272.28,339.50L272.33,340.00L272.38,340.50L272.44,341.00L272.49,341.50L272.54,342.00L272.60,342.50L272.65,343.00L272.71,343.50L272.76,344.00L272.81,344.50L272.87,345.00L272.92,345.50L272.98,346.00L273.03,346.50L273.09,347.00L273.14,347.50L273.20,348.00L273.26,348.50L273.31,349.00L273.37,349.50L273.42,350.00L273.48,350.50L273.54,351.00L273.59,351.50L273.65,352.00L273.71,352.50L273.77,353.00L273.82,353.50L273.88,354.00L273.94,354.50L274.00,355.00L274.06,355.50L274.12,356.01L274.18,356.52L274.24,357.03L274.30,357.55L274.37,358.07L274.43,358.59L274.50,359.11L274.56,359.64L274.63,360.16L274.69,360.69L274.76,361.22L274.82,361.75L274.89,362.27L274.96,362.80L275.02,363.33L275.09,363.86L275.16,364.38L275.22,364.91L275.29,365.43L275.36,365.95L275.42,366.47L275.49,366.98L275.55,367.49L275.62,368.00L275.68,368.51L275.75,369.01L275.81,369.50L275.87,370.00L275.93,370.48L276.00,370.96L276.06,371.44L276.11,371.91L276.17,372.37L276.23,372.83L276.29,373.28L276.34,373.72L276.40,374.15L276.45,374.58L276.50,375.00L276.57,375.58L276.64,376.14L276.70,376.69L276.77,377.22L276.83,377.74L276.89,378.25L276.95,378.75L277.01,379.25L277.07,379.73L277.12,380.21L277.18,380.69L277.24,381.16L277.29,381.64L277.35,382.11L277.40,382.58L277.46,383.06L277.52,383.53L277.58,384.02L277.64,384.50L277.70,385.00L277.76,385.50L277.82,386.01L277.87,386.52L277.93,387.03L277.98,387.55L278.03,388.06L278.08,388.58L278.13,389.10L278.18,389.61L278.24,390.12L278.29,390.64L278.35,391.14L278.41,391.65L278.48,392.15L278.55,392.64L278.63,393.13L278.71,393.61L278.80,394.08L278.90,394.54L279.00,395.00L279.14,395.55L279.29,396.11L279.46,396.66L279.63,397.20L279.81,397.74L280.00,398.27L280.19,398.80L280.38,399.31L280.57,399.80L280.77,400.28L280.96,400.74L281.14,401.19L281.33,401.60L281.50,402.00L281.75,402.57L281.98,403.12L282.21,403.62L282.45,404.08L282.71,404.47L283.00,404.80L283.47,405.17L283.99,405.41L284.50,405.50L285.01,405.41L285.53,405.17L286.00,404.80L286.28,404.47L286.53,404.08L286.76,403.63L286.99,403.12L287.23,402.58L287.50,402.00L287.67,401.64L287.85,401.25L288.04,400.84L288.23,400.42L288.43,399.97L288.63,399.50L288.84,399.03L289.05,398.54L289.26,398.04L289.48,397.54L289.69,397.03L289.91,396.51L290.13,396.00L290.35,395.49L290.57,394.99L290.79,394.49L291.00,394.00L291.20,393.54L291.41,393.06L291.62,392.58L291.83,392.10L292.04,391.61L292.25,391.12L292.46,390.62L292.68,390.13L292.89,389.63L293.11,389.14L293.32,388.65L293.53,388.17L293.75,387.69L293.96,387.21L294.17,386.75L294.38,386.30L294.59,385.85L294.80,385.42L295.00,385.00L295.25,384.48L295.50,383.98L295.75,383.48L295.99,383.00L296.23,382.53L296.48,382.06L296.72,381.61L296.97,381.16L297.22,380.73L297.47,380.31L297.73,379.90L298.00,379.50L298.31,379.06L298.61,378.63L298.92,378.22L299.23,377.82L299.55,377.44L299.88,377.07L300.23,376.70L300.60,376.35L301.00,376.00L301.39,375.68L301.81,375.36L302.25,375.05L302.70,374.74L303.17,374.44L303.65,374.15L304.13,373.88L304.61,373.62L305.08,373.39L305.55,373.18L306.00,373.00L306.49,372.82L306.95,372.67L307.40,372.55L307.85,372.45L308.32,372.37L308.83,372.32L309.38,372.30L310.00,372.30L310.35,372.31L310.72,372.34L311.10,372.37L311.51,372.41L311.92,372.47L312.36,372.53L312.80,372.60L313.26,372.68L313.73,372.77L314.22,372.87L314.71,372.97L315.22,373.08L315.73,373.19L316.25,373.31L316.78,373.44L317.31,373.56L317.85,373.69L318.40,373.83L318.94,373.97L319.50,374.11L320.05,374.25L320.61,374.39L321.16,374.53L321.72,374.67L322.27,374.82L322.82,374.96L323.37,375.10L323.92,375.23L324.46,375.37L325.00,375.50L325.46,375.61L325.91,375.73L326.38,375.84L326.84,375.96L327.31,376.08L327.78,376.20L328.25,376.33L328.73,376.45L329.21,376.58L329.69,376.71L330.17,376.84L330.65,376.97L331.14,377.10L331.63,377.24L332.11,377.37L332.61,377.51L333.10,377.64L333.59,377.78L334.08,377.92L334.58,378.06L335.08,378.20L335.57,378.34L336.07,378.48L336.57,378.62L337.07,378.76L337.57,378.91L338.07,379.05L338.56,379.19L339.06,379.33L339.56,379.47L340.06,379.62L340.56,379.76L341.06,379.90L341.55,380.04L342.05,380.18L342.54,380.32L343.04,380.46L343.53,380.59L344.02,380.73L344.51,380.87L345.00,381.00L345.49,381.14L346.00,381.27L346.51,381.42L347.03,381.56L347.55,381.71L348.09,381.85L348.63,382.00L349.17,382.15L349.72,382.31L350.27,382.46L350.83,382.62L351.39,382.77L351.95,382.93L352.51,383.08L353.07,383.24L353.62,383.39L354.18,383.55L354.73,383.70L355.28,383.86L355.83,384.01L356.37,384.16L356.91,384.31L357.44,384.45L357.96,384.60L358.47,384.74L358.98,384.88L359.48,385.02L359.96,385.15L360.44,385.28L360.90,385.41L361.35,385.53L361.79,385.65L362.21,385.76L362.62,385.87L363.01,385.98L363.39,386.08L363.75,386.17L364.09,386.26L364.41,386.35L364.72,386.43L365.00,386.50L365.66,386.68L366.23,386.85L366.72,387.00L367.16,387.12L367.58,387.19L368.00,387.20L368.62,387.10L369.19,386.90L369.70,386.60L370.06,386.30L370.39,385.93L370.69,385.50L371.00,385.00L371.21,384.63L371.42,384.21L371.64,383.76L371.85,383.28L372.07,382.77L372.27,382.24L372.47,381.69L372.66,381.14L372.84,380.57L373.00,380.00L373.11,379.56L373.22,379.10L373.32,378.64L373.41,378.17L373.49,377.68L373.57,377.19L373.64,376.69L373.71,376.19L373.78,375.68L373.84,375.16L373.90,374.64L373.96,374.11L374.02,373.59L374.08,373.06L374.14,372.53L374.20,372.00L374.25,371.53L374.30,371.05L374.35,370.57L374.40,370.09L374.44,369.60L374.49,369.11L374.53,368.62L374.57,368.13L374.61,367.63L374.64,367.13L374.68,366.63L374.72,366.12L374.75,365.61L374.79,365.10L374.82,364.59L374.86,364.08L374.89,363.56L374.93,363.04L374.96,362.52L375.00,362.00L375.03,361.52L375.07,361.04L375.10,360.55L375.13,360.05L375.16,359.55L375.19,359.05L375.22,358.55L375.25,358.04L375.28,357.53L375.31,357.02L375.34,356.51L375.37,356.00L375.40,355.49L375.43,354.98L375.46,354.47L375.49,353.96L375.51,353.45L375.54,352.95L375.57,352.45L375.59,351.95L375.62,351.46L375.65,350.97L375.67,350.48L375.70,350.00L375.73,349.49L375.76,348.99L375.78,348.50L375.81,348.03L375.84,347.56L375.86,347.10L375.89,346.65L375.91,346.19L375.94,345.74L375.97,345.28L375.99,344.81L376.01,344.34L376.04,343.86L376.06,343.37L376.09,342.86L376.11,342.33L376.13,341.78L376.16,341.21L376.18,340.62L376.20,340.00L376.21,339.63L376.23,339.25L376.24,338.86L376.25,338.47L376.26,338.06L376.27,337.65L376.28,337.23L376.30,336.81L376.31,336.37L376.32,335.93L376.33,335.48L376.34,335.03L376.35,334.57L376.36,334.10L376.37,333.63L376.38,333.15L376.39,332.67L376.40,332.18L376.41,331.69L376.42,331.19L376.43,330.69L376.44,330.18L376.45,329.67L376.46,329.16L376.47,328.64L376.48,328.12L376.49,327.59L376.50,327.07L376.51,326.54L376.51,326.01L376.52,325.47L376.53,324.93L376.54,324.40L376.55,323.86L376.56,323.31L376.57,322.77L376.58,322.23L376.59,321.68L376.60,321.14L376.61,320.60L376.61,320.05L376.62,319.51L376.63,318.96L376.64,318.42L376.65,317.88L376.66,317.34L376.67,316.80L376.68,316.26L376.69,315.72L376.70,315.19L376.71,314.65L376.72,314.12L376.73,313.60L376.74,313.07L376.75,312.55L376.76,312.03L376.77,311.52L376.78,311.01L376.79,310.50L376.80,310.00L376.81,309.50L376.82,308.99L376.83,308.48L376.84,307.97L376.85,307.45L376.87,306.93L376.88,306.40L376.89,305.88L376.90,305.35L376.91,304.81L376.92,304.28L376.93,303.74L376.95,303.20L376.96,302.66L376.97,302.12L376.98,301.58L376.99,301.04L377.00,300.49L377.01,299.95L377.03,299.40L377.04,298.86L377.05,298.32L377.06,297.77L377.07,297.23L377.09,296.69L377.10,296.14L377.11,295.60L377.12,295.07L377.13,294.53L377.14,293.99L377.16,293.46L377.17,292.93L377.18,292.41L377.19,291.88L377.20,291.36L377.22,290.84L377.23,290.33L377.24,289.82L377.25,289.31L377.26,288.81L377.28,288.31L377.29,287.82L377.30,287.33L377.31,286.85L377.32,286.37L377.34,285.90L377.35,285.43L377.36,284.97L377.37,284.52L377.38,284.07L377.39,283.63L377.41,283.19L377.42,282.77L377.43,282.35L377.44,281.94L377.45,281.53L377.47,281.14L377.48,280.75L377.49,280.37L377.50,280.00L377.52,279.38L377.54,278.78L377.55,278.21L377.57,277.66L377.58,277.12L377.60,276.60L377.61,276.10L377.63,275.61L377.64,275.13L377.66,274.66L377.67,274.20L377.69,273.74L377.71,273.28L377.73,272.83L377.75,272.37L377.78,271.91L377.80,271.45L377.83,270.97L377.86,270.49L377.90,270.00L377.94,269.49L377.98,268.97L378.02,268.44L378.06,267.91L378.11,267.37L378.15,266.82L378.20,266.27L378.25,265.73L378.30,265.18L378.36,264.65L378.41,264.11L378.47,263.59L378.53,263.08L378.59,262.58L378.65,262.10L378.72,261.64L378.78,261.19L378.85,260.77L378.93,260.37L379.00,260.00L379.14,259.34L379.29,258.73L379.44,258.18L379.60,257.68L379.79,257.22L380.00,256.80L380.37,256.20L380.79,255.70L381.20,255.50L381.62,255.76L382.02,256.34L382.40,257.00L382.61,257.41L382.80,257.84L382.97,258.31L383.14,258.82L383.31,259.38L383.50,260.00L383.61,260.37L383.72,260.76L383.84,261.18L383.96,261.62L384.08,262.08L384.21,262.56L384.34,263.06L384.47,263.57L384.60,264.09L384.73,264.63L384.86,265.17L384.99,265.71L385.12,266.26L385.25,266.81L385.38,267.36L385.51,267.90L385.63,268.44L385.76,268.97L385.88,269.49L386.00,270.00L386.12,270.50L386.23,270.98L386.35,271.46L386.46,271.94L386.57,272.41L386.69,272.89L386.80,273.36L386.91,273.83L387.02,274.30L387.13,274.78L387.24,275.26L387.35,275.74L387.45,276.24L387.56,276.74L387.67,277.25L387.78,277.77L387.88,278.31L387.99,278.86L388.09,279.42L388.20,280.00L388.27,280.42L388.35,280.84L388.42,281.28L388.50,281.72L388.57,282.17L388.64,282.62L388.71,283.09L388.79,283.55L388.86,284.03L388.93,284.51L389.00,285.00L389.07,285.49L389.15,285.98L389.22,286.48L389.29,286.99L389.36,287.50L389.43,288.01L389.50,288.53L389.57,289.04L389.64,289.56L389.71,290.09L389.78,290.61L389.85,291.14L389.92,291.66L389.99,292.19L390.06,292.72L390.12,293.25L390.19,293.78L390.26,294.31L390.33,294.84L390.40,295.36L390.46,295.89L390.53,296.41L390.60,296.93L390.67,297.45L390.73,297.97L390.80,298.48L390.87,298.99L390.93,299.50L391.00,300.00L391.07,300.50L391.13,301.00L391.20,301.50L391.26,302.00L391.33,302.50L391.39,303.00L391.46,303.50L391.52,304.00L391.58,304.50L391.65,305.00L391.71,305.50L391.77,306.00L391.83,306.50L391.90,307.00L391.96,307.50L392.02,308.00L392.08,308.50L392.15,309.00L392.21,309.50L392.27,310.00L392.33,310.50L392.39,311.00L392.45,311.50L392.51,312.00L392.58,312.50L392.64,313.00L392.70,313.50L392.76,314.00L392.82,314.50L392.88,315.00L392.94,315.50L393.00,316.00L393.07,316.50L393.13,317.00L393.19,317.50L393.25,318.00L393.31,318.50L393.38,319.00L393.44,319.50L393.50,320.00L393.56,320.50L393.62,321.01L393.68,321.52L393.74,322.04L393.80,322.56L393.86,323.08L393.92,323.60L393.98,324.13L394.04,324.66L394.09,325.19L394.15,325.72L394.21,326.25L394.26,326.79L394.32,327.32L394.38,327.85L394.43,328.39L394.49,328.92L394.55,329.45L394.60,329.98L394.66,330.50L394.72,331.03L394.78,331.55L394.84,332.07L394.90,332.58L394.96,333.09L395.02,333.60L395.08,334.10L395.15,334.59L395.21,335.08L395.28,335.57L395.34,336.05L395.41,336.52L395.48,336.98L395.55,337.44L395.62,337.89L395.69,338.33L395.77,338.76L395.84,339.18L395.92,339.60L396.00,340.00L396.12,340.60L396.25,341.19L396.37,341.77L396.50,342.35L396.64,342.91L396.77,343.46L396.91,344.01L397.05,344.53L397.19,345.05L397.33,345.55L397.47,346.04L397.62,346.51L397.76,346.97L397.91,347.41L398.05,347.84L398.20,348.24L398.35,348.63L398.50,349.00L398.77,349.63L399.03,350.21L399.30,350.74L399.58,351.21L399.87,351.63L400.20,352.00L400.61,352.37L401.05,352.68L401.51,352.90L402.00,353.00L402.47,352.96L402.97,352.82L403.48,352.59L404.00,352.31L404.50,352.00L404.88,351.74L405.27,351.43L405.65,351.10L406.04,350.73L406.41,350.36L406.79,349.97L407.15,349.58L407.50,349.20L407.83,348.83L408.14,348.46L408.44,348.10L408.74,347.72L409.03,347.33L409.34,346.91L409.66,346.47L410.00,346.00L410.24,345.66L410.48,345.30L410.74,344.91L410.99,344.51L411.26,344.09L411.52,343.65L411.80,343.21L412.07,342.76L412.35,342.31L412.64,341.85L412.93,341.40L413.22,340.95L413.51,340.50L413.80,340.07L414.10,339.65L414.40,339.25L414.70,338.86L415.00,338.50L415.37,338.08L415.74,337.66L416.13,337.25L416.52,336.85L416.91,336.45L417.31,336.07L417.71,335.71L418.11,335.35L418.50,335.02L418.89,334.71L419.27,334.41L419.64,334.14L420.00,333.90L420.52,333.58L421.03,333.31L421.53,333.09L422.03,332.90L422.51,332.74L423.00,332.60L423.51,332.48L424.01,332.40L424.51,332.35L425.00,332.32L425.50,332.30L426.00,332.30L426.51,332.33L427.02,332.37L427.52,332.43L428.00,332.50L428.50,332.58L428.97,332.66L429.46,332.79L430.00,333.00L430.35,333.17L430.72,333.38L431.12,333.62L431.53,333.89L431.96,334.18L432.39,334.48L432.84,334.81L433.28,335.14L433.72,335.48L434.16,335.83L434.59,336.17L435.00,336.50L435.40,336.83L435.79,337.16L436.18,337.50L436.57,337.85L436.95,338.21L437.34,338.57L437.72,338.93L438.11,339.30L438.49,339.68L438.87,340.06L439.24,340.44L439.62,340.82L440.00,341.20L440.37,341.58L440.74,341.97L441.12,342.36L441.50,342.77L441.88,343.18L442.25,343.59L442.63,344.00L443.00,344.41L443.36,344.82L443.71,345.22L444.05,345.61L444.38,345.99L444.70,346.35L445.00,346.70L445.40,347.17L445.75,347.59L446.08,347.98L446.39,348.38L446.72,348.80L447.09,349.27L447.50,349.80L447.73,350.10L447.97,350.41L448.22,350.75L448.48,351.10L448.75,351.46L449.03,351.84L449.32,352.23L449.61,352.63L449.91,353.04L450.22,353.46L450.53,353.88L450.84,354.32L451.16,354.75L451.49,355.20L451.81,355.64L452.13,356.09L452.46,356.54L452.79,356.98L453.11,357.43L453.43,357.87L453.76,358.31L454.07,358.74L454.39,359.17L454.70,359.59L455.00,360.00L455.30,360.40L455.60,360.80L455.89,361.21L456.19,361.61L456.49,362.01L456.79,362.41L457.08,362.81L457.38,363.21L457.68,363.62L457.97,364.02L458.27,364.42L458.57,364.82L458.87,365.22L459.16,365.62L459.46,366.02L459.76,366.42L460.06,366.82L460.36,367.21L460.67,367.61L460.97,368.01L461.27,368.41L461.58,368.81L461.88,369.21L462.19,369.60L462.50,370.00L462.82,370.40L463.13,370.80L463.45,371.21L463.77,371.61L464.09,372.01L464.41,372.40L464.74,372.80L465.06,373.20L465.39,373.60L465.72,374.00L466.04,374.40L466.37,374.79L466.70,375.19L467.03,375.59L467.35,375.99L467.68,376.39L468.01,376.79L468.34,377.19L468.66,377.59L468.99,377.99L469.31,378.39L469.64,378.79L469.96,379.19L470.28,379.60L470.60,380.00L470.92,380.41L471.24,380.82L471.56,381.23L471.88,381.64L472.20,382.05L472.51,382.46L472.83,382.87L473.15,383.28L473.46,383.70L473.78,384.11L474.09,384.52L474.41,384.94L474.72,385.35L475.04,385.77L475.35,386.18L475.67,386.59L475.98,387.01L476.30,387.42L476.61,387.84L476.92,388.25L477.24,388.66L477.55,389.07L477.87,389.48L478.18,389.89L478.50,390.30L478.81,390.70L479.13,391.11L479.44,391.51L479.75,391.91L480.07,392.32L480.38,392.72L480.69,393.12L481.01,393.52L481.32,393.92L481.64,394.33L481.95,394.73L482.27,395.13L482.58,395.53L482.89,395.93L483.21,396.33L483.52,396.73L483.83,397.13L484.14,397.53L484.45,397.92L484.76,398.32L485.07,398.72L485.38,399.11L485.69,399.51L485.99,399.91L486.30,400.30L486.62,400.71L486.94,401.13L487.26,401.55L487.57,401.96L487.89,402.38L488.21,402.80L488.52,403.22L488.84,403.63L489.15,404.05L489.46,404.46L489.77,404.88L490.09,405.29L490.40,405.70L490.71,406.11L491.02,406.52L491.33,406.93L491.64,407.33L491.95,407.73L492.26,408.13L492.57,408.53L492.88,408.92L493.19,409.31L493.50,409.70L493.83,410.11L494.15,410.51L494.47,410.91L494.79,411.31L495.11,411.70L495.43,412.10L495.75,412.49L496.07,412.88L496.39,413.26L496.70,413.65L497.02,414.03L497.34,414.41L497.67,414.79L497.99,415.16L498.32,415.54L498.65,415.91L498.98,416.29L499.32,416.66L499.66,417.03L500.00,417.40L500.35,417.78L500.71,418.15L501.07,418.52L501.44,418.89L501.80,419.26L502.17,419.63L502.55,420.00L502.92,420.37L503.30,420.73L503.68,421.09L504.06,421.46L504.44,421.81L504.82,422.17L505.20,422.53L505.58,422.88L505.97,423.23L506.35,423.57L506.73,423.92L507.12,424.26L507.50,424.60L507.89,424.94L508.28,425.28L508.67,425.62L509.06,425.95L509.45,426.28L509.84,426.61L510.24,426.94L510.63,427.26L511.02,427.58L511.42,427.90L511.81,428.22L512.21,428.54L512.61,428.85L513.01,429.16L513.40,429.47L513.80,429.78L514.20,430.09L514.60,430.40L515.00,430.70L515.41,431.01L515.82,431.32L516.24,431.63L516.65,431.94L517.06,432.24L517.48,432.55L517.89,432.85L518.31,433.15L518.72,433.44L519.14,433.74L519.56,434.03L519.98,434.32L520.39,434.61L520.81,434.89L521.23,435.18L521.66,435.45L522.08,435.73L522.50,436.00L522.94,436.28L523.37,436.55L523.81,436.82L524.25,437.09L524.68,437.35L525.12,437.61L525.56,437.87L526.00,438.12L526.45,438.38L526.89,438.63L527.33,438.87L527.77,439.12L528.22,439.36L528.66,439.60L529.11,439.83L529.55,440.07L530.00,440.30L530.46,440.54L530.93,440.77L531.39,441.00L531.86,441.22L532.33,441.45L532.80,441.67L533.27,441.88L533.73,442.10L534.20,442.31L534.67,442.52L535.14,442.73L535.62,442.93L536.09,443.14L536.56,443.34L537.03,443.55L537.50,443.75L537.97,443.95L538.43,444.15L538.90,444.34L539.37,444.54L539.84,444.73L540.30,444.92L540.77,445.11L541.24,445.30L541.71,445.48L542.18,445.67L542.65,445.85L543.12,446.03L543.59,446.21L544.06,446.39L544.53,446.57L545.00,446.75L545.50,446.94L546.00,447.12L546.50,447.31L546.99,447.49L547.49,447.67L547.99,447.85L548.49,448.03L548.99,448.20L549.49,448.38L549.99,448.55L550.49,448.73L551.00,448.90L551.50,449.07L552.00,449.23L552.50,449.40L553.00,449.56L553.51,449.73L554.02,449.89L554.54,450.05L555.05,450.21L555.57,450.37L556.08,450.52L556.60,450.68L557.11,450.83L557.61,450.98L558.11,451.13L558.60,451.28L559.08,451.42L559.54,451.56L560.00,451.70L560.54,451.86L561.05,452.02L561.54,452.17L562.02,452.32L562.50,452.46L562.97,452.60L563.46,452.75L563.95,452.90L564.46,453.04L565.00,453.20L565.46,453.33L565.92,453.47L566.40,453.61L566.89,453.75L567.38,453.89L567.89,454.04L568.39,454.18L568.91,454.33L569.42,454.47L569.94,454.61L570.45,454.75L570.97,454.88L571.48,455.01L571.99,455.13L572.50,455.25L573.00,455.36L573.49,455.46L573.98,455.57L574.47,455.66L574.95,455.75L575.44,455.84L575.93,455.93L576.42,456.02L576.92,456.10L577.42,456.18L577.92,456.27L578.43,456.35L578.94,456.43L579.47,456.52L580.00,456.60L580.46,456.67L580.93,456.75L581.40,456.82L581.87,456.89L582.35,456.95L582.83,457.02L583.31,457.09L583.80,457.16L584.29,457.23L584.78,457.29L585.28,457.36L585.78,457.43L586.29,457.50L586.81,457.56L587.32,457.63L587.85,457.70L588.38,457.78L588.91,457.85L589.45,457.92L590.00,458.00L590.45,458.06L590.91,458.13L591.38,458.20L591.85,458.26L592.32,458.33L592.81,458.40L593.29,458.47L593.78,458.54L594.28,458.61L594.77,458.69L595.28,458.76L595.78,458.83L596.29,458.91L596.80,458.98L597.31,459.05L597.82,459.13L598.34,459.20L598.85,459.28L599.37,459.35L599.89,459.42L600.40,459.49L600.92,459.56L601.43,459.64L601.95,459.71L602.46,459.77L602.98,459.84L603.49,459.91L603.99,459.97L604.50,460.04L605.00,460.10L605.50,460.16L606.00,460.22L606.50,460.28L607.00,460.34L607.50,460.40L608.00,460.46L608.50,460.51L609.00,460.57L609.50,460.63L610.00,460.68L610.50,460.74L611.00,460.79L611.50,460.84L612.00,460.90L612.50,460.95L613.00,461.00L613.50,461.05L614.00,461.11L614.50,461.16L615.00,461.21L615.50,461.26L616.00,461.31L616.50,461.36L617.00,461.41L617.50,461.46L618.00,461.51L618.50,461.55L619.00,461.60L619.50,461.65L620.00,461.70L620.50,461.75L621.00,461.80L621.50,461.84L622.00,461.89L622.50,461.94L623.00,461.99L623.50,462.03L624.00,462.08L624.50,462.12L625.00,462.17L625.50,462.22L626.00,462.26L626.50,462.31L627.00,462.35L627.50,462.39L628.00,462.44L628.50,462.48L629.00,462.52L629.50,462.57L630.00,462.61L630.50,462.65L631.00,462.69L631.50,462.73L632.00,462.77L632.50,462.81L633.00,462.85L633.50,462.89L634.00,462.93L634.50,462.96L635.00,463.00L635.50,463.04L636.00,463.07L636.50,463.11L637.00,463.14L637.50,463.17L638.00,463.21L638.50,463.24L639.00,463.27L639.50,463.30L640.00,463.33L640.50,463.36L641.00,463.39L641.50,463.42L642.00,463.45L642.50,463.48L643.00,463.51L643.50,463.54L644.00,463.57L644.50,463.59L645.00,463.62L645.50,463.65L646.00,463.68L646.50,463.71L647.00,463.73L647.50,463.76L648.00,463.79L648.50,463.82L649.00,463.84L649.50,463.87L650.00,463.90L650.50,463.93L651.00,463.96L651.50,463.98L652.00,464.01L652.50,464.04L653.00,464.07L653.50,464.09L654.00,464.12L654.50,464.15L655.00,464.17L655.50,464.20L656.00,464.23L656.50,464.25L657.00,464.28L657.50,464.31L658.00,464.33L658.50,464.36L659.00,464.38L659.50,464.41L660.00,464.44L660.50,464.46L661.00,464.49L661.50,464.52L662.00,464.54L662.50,464.57L663.00,464.59L663.50,464.62L664.00,464.65L664.50,464.67L665.00,464.70L665.50,464.73L666.00,464.75L666.50,464.78L667.00,464.81L667.50,464.83L668.00,464.86L668.50,464.88L669.00,464.91L669.50,464.94L670.00,464.96L670.50,464.99L671.00,465.02L671.50,465.04L672.00,465.07L672.50,465.09L673.00,465.12L673.50,465.15L674.00,465.17L674.50,465.20L675.00,465.23L675.50,465.25L676.00,465.28L676.50,465.31L677.00,465.33L677.50,465.36L678.00,465.39L678.50,465.42L679.00,465.44L679.50,465.47L680.00,465.50L680.50,465.53L681.01,465.56L681.51,465.58L682.03,465.61L682.54,465.64L683.05,465.67L683.57,465.70L684.09,465.73L684.60,465.76L685.12,465.78L685.64,465.81L686.16,465.84L686.67,465.87L687.19,465.90L687.70,465.93L688.22,465.96L688.73,465.99L689.24,466.02L689.74,466.05L690.24,466.08L690.74,466.11L691.23,466.14L691.72,466.17L692.21,466.20L692.69,466.23L693.16,466.27L693.63,466.30L694.09,466.33L694.55,466.37L695.00,466.40L695.56,466.44L696.11,466.49L696.65,466.53L697.18,466.58L697.70,466.63L698.22,466.67L698.73,466.72L699.23,466.77L699.73,466.82L700.23,466.86L700.72,466.91L701.22,466.96L701.71,467.01L702.20,467.06L702.69,467.11L703.19,467.16L703.69,467.20L704.19,467.25L704.70,467.30" stroke="#2E2E99"/>
<path d="M241.00,383.00L241.07,382.50L241.15,382.02L241.22,381.53L241.30,381.06L241.38,380.58L241.46,380.10L241.53,379.62L241.61,379.13L241.68,378.64L241.75,378.14L241.82,377.63L241.89,377.10L241.95,376.56L242.00,376.00L242.04,375.57L242.07,375.13L242.10,374.68L242.13,374.24L242.16,373.78L242.18,373.33L242.21,372.86L242.23,372.39L242.25,371.92L242.26,371.44L242.28,370.95L242.30,370.46L242.31,369.96L242.33,369.46L242.34,368.94L242.35,368.43L242.37,367.90L242.38,367.37L242.40,366.82L242.42,366.28L242.44,365.72L242.46,365.15L242.48,364.58L242.50,364.00L242.52,363.58L242.54,363.16L242.55,362.73L242.57,362.30L242.59,361.86L242.61,361.41L242.63,360.96L242.65,360.51L242.67,360.05L242.69,359.58L242.71,359.12L242.73,358.64L242.76,358.16L242.78,357.68L242.80,357.20L242.82,356.71L242.84,356.22L242.87,355.72L242.89,355.22L242.91,354.72L242.93,354.21L242.96,353.71L242.98,353.20L243.00,352.68L243.02,352.17L243.05,351.65L243.07,351.13L243.09,350.61L243.11,350.08L243.14,349.56L243.16,349.03L243.18,348.50L243.20,347.97L243.22,347.44L243.25,346.91L243.27,346.38L243.29,345.85L243.31,345.32L243.33,344.78L243.35,344.25L243.37,343.72L243.39,343.18L243.41,342.65L243.43,342.12L243.45,341.59L243.46,341.06L243.48,340.53L243.50,340.00L243.52,339.53L243.53,339.05L243.54,338.58L243.56,338.10L243.57,337.62L243.59,337.15L243.60,336.67L243.62,336.19L243.63,335.70L243.64,335.22L243.65,334.74L243.67,334.25L243.68,333.77L243.69,333.28L243.71,332.79L243.72,332.30L243.73,331.81L243.74,331.32L243.75,330.83L243.76,330.33L243.78,329.84L243.79,329.34L243.80,328.85L243.81,328.35L243.82,327.85L243.83,327.36L243.84,326.86L243.85,326.36L243.86,325.86L243.88,325.35L243.89,324.85L243.90,324.35L243.91,323.84L243.92,323.34L243.93,322.83L243.94,322.33L243.95,321.82L243.96,321.31L243.97,320.80L243.98,320.30L243.99,319.79L244.00,319.28L244.01,318.76L244.02,318.25L244.03,317.74L244.04,317.23L244.05,316.72L244.06,316.20L244.08,315.69L244.09,315.17L244.10,314.66L244.11,314.14L244.12,313.63L244.13,313.11L244.14,312.59L244.15,312.07L244.16,311.56L244.18,311.04L244.19,310.52L244.20,310.00L244.21,309.52L244.22,309.03L244.23,308.54L244.24,308.04L244.26,307.54L244.27,307.04L244.28,306.53L244.29,306.02L244.30,305.51L244.31,304.99L244.32,304.47L244.33,303.95L244.34,303.42L244.35,302.89L244.36,302.36L244.37,301.83L244.39,301.30L244.40,300.76L244.41,300.22L244.42,299.69L244.43,299.15L244.44,298.61L244.45,298.07L244.46,297.52L244.47,296.98L244.48,296.44L244.49,295.90L244.50,295.35L244.52,294.81L244.53,294.27L244.54,293.73L244.55,293.19L244.56,292.65L244.57,292.11L244.58,291.57L244.59,291.04L244.60,290.51L244.61,289.97L244.63,289.44L244.64,288.92L244.65,288.39L244.66,287.87L244.67,287.35L244.68,286.83L244.69,286.32L244.71,285.81L244.72,285.30L244.73,284.80L244.74,284.30L244.75,283.80L244.76,283.31L244.78,282.82L244.79,282.34L244.80,281.86L244.81,281.39L244.82,280.92L244.84,280.46L244.85,280.00L244.86,279.55L244.87,279.10L244.88,278.66L244.90,278.23L244.91,277.80L244.92,277.38L244.94,276.97L244.95,276.56L244.96,276.16L244.97,275.77L244.99,275.38L245.00,275.00L245.02,274.38L245.05,273.78L245.07,273.19L245.09,272.62L245.12,272.07L245.14,271.53L245.17,271.00L245.20,270.49L245.22,269.98L245.25,269.49L245.27,269.00L245.30,268.52L245.33,268.05L245.35,267.58L245.38,267.11L245.40,266.65L245.43,266.19L245.45,265.72L245.47,265.26L245.50,264.80L245.52,264.33L245.54,263.86L245.56,263.38L245.58,262.89L245.60,262.40L245.62,261.88L245.64,261.35L245.65,260.83L245.67,260.31L245.68,259.79L245.69,259.27L245.70,258.76L245.71,258.24L245.72,257.72L245.73,257.21L245.74,256.69L245.75,256.18L245.76,255.66L245.77,255.15L245.78,254.63L245.80,254.12L245.81,253.60L245.82,253.09L245.83,252.57L245.85,252.05L245.86,251.54L245.88,251.02L245.90,250.50L245.92,250.00L245.94,249.50L245.96,249.01L245.98,248.52L246.00,248.03L246.02,247.54L246.05,247.05L246.07,246.56L246.09,246.08L246.12,245.59L246.14,245.10L246.17,244.61L246.19,244.11L246.22,243.62L246.25,243.12L246.27,242.62L246.30,242.11L246.33,241.60L246.36,241.08L246.39,240.56L246.41,240.03L246.44,239.49L246.47,238.95L246.50,238.40L246.52,237.94L246.55,237.48L246.57,237.01L246.60,236.53L246.62,236.04L246.65,235.55L246.68,235.05L246.70,234.55L246.73,234.04L246.76,233.53L246.78,233.01L246.81,232.49L246.84,231.97L246.87,231.45L246.90,230.92L246.92,230.39L246.95,229.86L246.98,229.34L247.01,228.81L247.04,228.28L247.07,227.75L247.10,227.23L247.13,226.70L247.16,226.18L247.19,225.66L247.21,225.15L247.24,224.64L247.27,224.13L247.30,223.63L247.33,223.14L247.36,222.65L247.39,222.16L247.42,221.68L247.44,221.22L247.47,220.75L247.50,220.30L247.53,219.74L247.57,219.18L247.60,218.64L247.64,218.10L247.67,217.57L247.71,217.04L247.74,216.53L247.78,216.01L247.81,215.50L247.84,215.00L247.88,214.50L247.91,214.00L247.95,213.50L247.98,213.01L248.02,212.51L248.05,212.02L248.08,211.52L248.12,211.03L248.16,210.53L248.19,210.03L248.23,209.52L248.26,209.01L248.30,208.50L248.34,208.00L248.37,207.50L248.41,207.00L248.44,206.51L248.47,206.01L248.51,205.51L248.54,205.01L248.58,204.51L248.61,204.01L248.65,203.51L248.68,203.01L248.72,202.50L248.76,202.00L248.79,201.50L248.83,201.00L248.87,200.50L248.91,200.00L248.94,199.50L248.98,199.00L249.03,198.50L249.07,198.00L249.11,197.50L249.15,197.00L249.20,196.50L249.25,196.00L249.29,195.49L249.34,194.97L249.39,194.45L249.44,193.93L249.49,193.40L249.55,192.87L249.60,192.34L249.65,191.82L249.71,191.29L249.76,190.76L249.82,190.24L249.87,189.72L249.93,189.20L249.99,188.70L250.04,188.19L250.10,187.70L250.16,187.21L250.21,186.73L250.27,186.26L250.33,185.80L250.39,185.35L250.44,184.92L250.50,184.50L250.58,183.92L250.65,183.36L250.72,182.81L250.79,182.27L250.86,181.75L250.93,181.24L251.00,180.75L251.08,180.27L251.17,179.81L251.27,179.36L251.38,178.92L251.50,178.50L251.67,177.96L251.86,177.43L252.06,176.93L252.27,176.45L252.50,176.02L252.74,175.63L253.00,175.30L253.48,174.84L253.99,174.50L254.50,174.40L254.90,174.55L255.29,174.87L255.66,175.31L256.00,175.80L256.21,176.18L256.39,176.62L256.55,177.09L256.69,177.61L256.83,178.14L256.98,178.69L257.13,179.25L257.30,179.80L257.45,180.25L257.62,180.72L257.79,181.19L257.96,181.68L258.14,182.18L258.32,182.68L258.50,183.18L258.67,183.69L258.84,184.20L259.01,184.70L259.16,185.20L259.30,185.70L259.44,186.23L259.57,186.75L259.69,187.28L259.81,187.80L259.92,188.33L260.03,188.86L260.13,189.39L260.23,189.91L260.32,190.44L260.41,190.97L260.50,191.50L260.58,192.03L260.65,192.55L260.72,193.08L260.78,193.60L260.84,194.13L260.89,194.66L260.94,195.19L261.00,195.71L261.06,196.24L261.13,196.77L261.20,197.30L261.28,197.84L261.37,198.37L261.45,198.91L261.55,199.45L261.64,199.98L261.74,200.52L261.83,201.06L261.93,201.59L262.02,202.13L262.11,202.67L262.20,203.20L262.29,203.73L262.37,204.26L262.45,204.78L262.54,205.31L262.62,205.83L262.70,206.36L262.78,206.88L262.87,207.41L262.94,207.94L263.02,208.47L263.10,209.00L263.17,209.50L263.24,209.99L263.31,210.49L263.38,210.99L263.45,211.49L263.52,211.99L263.59,212.49L263.65,213.00L263.72,213.50L263.78,214.00L263.84,214.50L263.90,215.00L263.96,215.49L264.00,215.96L264.05,216.43L264.09,216.88L264.13,217.34L264.18,217.80L264.22,218.28L264.26,218.77L264.31,219.28L264.37,219.82L264.43,220.39L264.50,221.00L264.55,221.38L264.59,221.78L264.65,222.20L264.70,222.63L264.76,223.07L264.82,223.53L264.88,224.01L264.95,224.49L265.01,224.98L265.08,225.49L265.15,226.00L265.22,226.52L265.30,227.05L265.37,227.59L265.45,228.13L265.52,228.68L265.60,229.23L265.68,229.78L265.76,230.34L265.83,230.89L265.91,231.45L265.99,232.00L266.07,232.56L266.14,233.11L266.22,233.66L266.29,234.20L266.37,234.74L266.44,235.27L266.51,235.80L266.58,236.31L266.65,236.82L266.72,237.32L266.78,237.81L266.84,238.29L266.90,238.75L266.97,239.29L267.03,239.83L267.10,240.36L267.16,240.88L267.22,241.40L267.29,241.91L267.34,242.42L267.40,242.92L267.46,243.42L267.52,243.91L267.57,244.41L267.63,244.90L267.68,245.38L267.74,245.87L267.79,246.35L267.85,246.84L267.90,247.32L267.96,247.80L268.01,248.29L268.07,248.78L268.13,249.27L268.18,249.76L268.24,250.25L268.30,250.75L268.36,251.25L268.42,251.75L268.48,252.25L268.54,252.75L268.60,253.25L268.65,253.75L268.71,254.25L268.77,254.76L268.83,255.26L268.89,255.76L268.95,256.26L269.01,256.76L269.07,257.26L269.13,257.76L269.19,258.26L269.25,258.76L269.31,259.26L269.37,259.76L269.43,260.26L269.50,260.76L269.56,261.26L269.62,261.75L269.69,262.25L269.75,262.75L269.82,263.27L269.89,263.79L269.96,264.32L270.03,264.85L270.10,265.39L270.18,265.92L270.25,266.46L270.33,267.00L270.40,267.54L270.48,268.08L270.55,268.61L270.63,269.14L270.70,269.67L270.78,270.19L270.85,270.71L270.92,271.22L271.00,271.72L271.07,272.21L271.14,272.69L271.21,273.16L271.27,273.62L271.34,274.07L271.40,274.50L271.48,275.06L271.56,275.59L271.63,276.09L271.70,276.57L271.77,277.04L271.84,277.50L271.91,277.96L271.98,278.43L272.05,278.91L272.13,279.41L272.21,279.94L272.30,280.50L272.37,280.93L272.44,281.38L272.51,281.85L272.59,282.32L272.66,282.81L272.74,283.30L272.82,283.81L272.90,284.32L272.98,284.84L273.06,285.36L273.15,285.90L273.23,286.43L273.32,286.97L273.41,287.51L273.50,288.05L273.60,288.59L273.69,289.13L273.79,289.67L273.89,290.21L273.99,290.74L274.09,291.27L274.19,291.79L274.30,292.30L274.40,292.79L274.51,293.28L274.61,293.77L274.72,294.26L274.83,294.75L274.95,295.24L275.06,295.73L275.17,296.22L275.29,296.71L275.41,297.20L275.53,297.68L275.65,298.17L275.77,298.66L275.90,299.15L276.02,299.63L276.15,300.12L276.28,300.61L276.40,301.09L276.53,301.58L276.67,302.06L276.80,302.55L276.93,303.03L277.07,303.52L277.20,304.00L277.34,304.48L277.48,304.97L277.62,305.45L277.76,305.93L277.91,306.41L278.06,306.89L278.21,307.37L278.36,307.85L278.52,308.32L278.67,308.80L278.82,309.28L278.98,309.76L279.14,310.24L279.29,310.71L279.45,311.19L279.60,311.67L279.76,312.15L279.91,312.63L280.06,313.10L280.21,313.58L280.36,314.06L280.51,314.54L280.66,315.02L280.80,315.50L280.95,316.00L281.09,316.50L281.24,317.00L281.39,317.49L281.53,317.99L281.67,318.49L281.82,318.99L281.96,319.49L282.10,319.99L282.24,320.49L282.39,320.99L282.53,321.49L282.66,321.99L282.80,322.49L282.94,322.99L283.08,323.49L283.21,323.99L283.35,324.49L283.48,324.99L283.61,325.49L283.74,325.99L283.87,326.50L284.00,327.00L284.12,327.49L284.25,327.98L284.37,328.48L284.49,328.99L284.61,329.50L284.73,330.01L284.85,330.52L284.96,331.04L285.08,331.56L285.20,332.07L285.31,332.58L285.42,333.10L285.54,333.60L285.65,334.11L285.76,334.60L285.87,335.10L285.98,335.58L286.08,336.06L286.19,336.53L286.30,336.98L286.40,337.43L286.50,337.87L286.60,338.29L286.70,338.70L286.85,339.30L286.99,339.85L287.13,340.37L287.26,340.87L287.39,341.36L287.52,341.84L287.65,342.33L287.78,342.83L287.91,343.35L288.05,343.90L288.20,344.50L288.30,344.93L288.40,345.37L288.51,345.82L288.62,346.29L288.72,346.77L288.83,347.26L288.94,347.76L289.05,348.27L289.16,348.79L289.28,349.31L289.39,349.83L289.50,350.37L289.62,350.90L289.73,351.44L289.85,351.98L289.97,352.51L290.09,353.05L290.20,353.59L290.32,354.12L290.44,354.65L290.56,355.17L290.68,355.69L290.80,356.20L290.92,356.71L291.04,357.21L291.17,357.72L291.29,358.22L291.42,358.73L291.54,359.23L291.67,359.73L291.80,360.24L291.93,360.74L292.06,361.24L292.19,361.75L292.31,362.25L292.44,362.76L292.57,363.26L292.70,363.76L292.83,364.27L292.96,364.77L293.08,365.27L293.21,365.78L293.33,366.28L293.46,366.79L293.58,367.29L293.70,367.80L293.82,368.31L293.94,368.81L294.05,369.32L294.17,369.83L294.28,370.34L294.39,370.85L294.50,371.36L294.62,371.86L294.73,372.37L294.84,372.88L294.95,373.39L295.06,373.90L295.17,374.41L295.28,374.92L295.39,375.43L295.50,375.94L295.61,376.45L295.72,376.96L295.83,377.47L295.95,377.97L296.06,378.48L296.18,378.99L296.30,379.50L296.42,379.99L296.53,380.48L296.65,380.96L296.77,381.45L296.89,381.94L297.01,382.43L297.13,382.91L297.25,383.40L297.37,383.89L297.49,384.37L297.62,384.86L297.74,385.35L297.86,385.84L297.98,386.32L298.11,386.81L298.23,387.30L298.35,387.78L298.48,388.27L298.60,388.76L298.72,389.25L298.84,389.73L298.96,390.22L299.08,390.71L299.20,391.20L299.32,391.69L299.44,392.18L299.55,392.67L299.67,393.17L299.79,393.66L299.90,394.15L300.02,394.64L300.13,395.14L300.25,395.63L300.36,396.12L300.48,396.61L300.59,397.11L300.71,397.60L300.82,398.09L300.94,398.59L301.05,399.08L301.17,399.57L301.29,400.06L301.40,400.55L301.52,401.04L301.64,401.53L301.76,402.02L301.88,402.51L302.00,403.00L302.13,403.51L302.25,404.02L302.38,404.54L302.51,405.06L302.64,405.59L302.77,406.11L302.90,406.64L303.03,407.17L303.16,407.70L303.29,408.23L303.43,408.75L303.56,409.28L303.69,409.79L303.82,410.30L303.95,410.81L304.09,411.30L304.22,411.79L304.35,412.27L304.48,412.74L304.61,413.20L304.74,413.65L304.87,414.08L305.00,414.50L305.17,415.05L305.34,415.56L305.51,416.04L305.68,416.50L305.84,416.95L306.01,417.39L306.17,417.83L306.35,418.27L306.52,418.73L306.71,419.21L306.90,419.71L307.10,420.25L307.25,420.66L307.40,421.08L307.56,421.51L307.72,421.96L307.88,422.42L308.04,422.88L308.21,423.35L308.38,423.83L308.55,424.32L308.73,424.81L308.91,425.31L309.09,425.81L309.27,426.31L309.46,426.82L309.64,427.32L309.84,427.82L310.03,428.33L310.23,428.83L310.43,429.32L310.63,429.81L310.83,430.30L311.04,430.78L311.25,431.25L311.46,431.71L311.66,432.18L311.87,432.65L312.09,433.13L312.30,433.62L312.52,434.11L312.74,434.60L312.96,435.10L313.19,435.59L313.42,436.08L313.65,436.56L313.88,437.04L314.11,437.52L314.35,437.98L314.59,438.44L314.84,438.89L315.08,439.32L315.33,439.74L315.59,440.15L315.84,440.54L316.10,440.91L316.37,441.26L316.63,441.59L316.90,441.90L317.32,442.35L317.75,442.79L318.20,443.21L318.65,443.60L319.10,443.96L319.56,444.29L320.03,444.57L320.50,444.81L320.97,445.00L321.43,445.13L321.90,445.20L322.35,445.20L322.82,445.14L323.29,445.02L323.77,444.86L324.25,444.65L324.73,444.41L325.19,444.14L325.65,443.84L326.09,443.54L326.51,443.22L326.90,442.90L327.26,442.58L327.60,442.22L327.92,441.85L328.23,441.45L328.53,441.03L328.81,440.59L329.09,440.15L329.36,439.70L329.62,439.24L329.88,438.79L330.14,438.34L330.40,437.90L330.65,437.47L330.90,437.03L331.14,436.59L331.38,436.14L331.61,435.69L331.83,435.24L332.05,434.79L332.27,434.33L332.48,433.88L332.69,433.42L332.90,432.96L333.10,432.50L333.32,432.01L333.52,431.52L333.72,431.05L333.92,430.57L334.11,430.09L334.29,429.60L334.48,429.10L334.67,428.59L334.86,428.05L335.05,427.49L335.25,426.90L335.39,426.48L335.53,426.05L335.67,425.61L335.81,425.15L335.95,424.68L336.09,424.20L336.24,423.71L336.38,423.22L336.53,422.71L336.67,422.20L336.82,421.68L336.96,421.16L337.11,420.63L337.25,420.11L337.40,419.58L337.54,419.05L337.68,418.52L337.82,417.99L337.96,417.46L338.10,416.94L338.23,416.42L338.37,415.91L338.50,415.40L338.63,414.89L338.76,414.38L338.89,413.86L339.02,413.33L339.15,412.80L339.27,412.27L339.40,411.74L339.53,411.20L339.65,410.67L339.78,410.14L339.90,409.61L340.02,409.08L340.14,408.55L340.26,408.03L340.38,407.52L340.49,407.01L340.61,406.52L340.72,406.03L340.83,405.55L340.94,405.08L341.04,404.62L341.15,404.18L341.25,403.75L341.38,403.19L341.51,402.67L341.63,402.17L341.75,401.69L341.87,401.23L341.98,400.77L342.09,400.32L342.21,399.86L342.32,399.38L342.44,398.88L342.57,398.36L342.70,397.80L342.80,397.37L342.90,396.92L343.01,396.45L343.11,395.96L343.22,395.46L343.34,394.94L343.45,394.42L343.56,393.89L343.68,393.35L343.80,392.80L343.91,392.26L344.03,391.71L344.15,391.16L344.27,390.62L344.39,390.08L344.50,389.55L344.62,389.03L344.74,388.52L344.85,388.02L344.97,387.54L345.08,387.07L345.19,386.63L345.30,386.20L345.46,385.60L345.61,385.04L345.76,384.49L345.90,383.97L346.05,383.46L346.20,382.97L346.35,382.48L346.50,381.99L346.66,381.50L346.82,381.01L347.00,380.50L347.17,380.02L347.33,379.53L347.49,379.04L347.66,378.54L347.83,378.05L348.00,377.56L348.18,377.08L348.38,376.60L348.58,376.13L348.81,375.67L349.04,375.23L349.30,374.80L349.59,374.35L349.90,373.89L350.22,373.43L350.55,372.97L350.90,372.53L351.26,372.11L351.63,371.71L352.03,371.34L352.43,371.02L352.86,370.73L353.30,370.50L353.77,370.34L354.29,370.27L354.84,370.26L355.40,370.31L355.98,370.37L356.57,370.45L357.15,370.52L357.71,370.55L358.24,370.54L358.74,370.46L359.20,370.30L359.61,370.06L359.99,369.78L360.35,369.45L360.69,369.08L361.02,368.68L361.33,368.25L361.63,367.81L361.91,367.36L362.18,366.90L362.44,366.44L362.70,366.00L362.95,365.54L363.18,365.07L363.39,364.58L363.59,364.09L363.78,363.59L363.95,363.08L364.12,362.56L364.29,362.04L364.46,361.53L364.63,361.01L364.80,360.50L364.96,360.02L365.12,359.55L365.28,359.07L365.43,358.59L365.58,358.10L365.73,357.62L365.88,357.13L366.03,356.65L366.17,356.16L366.32,355.67L366.46,355.19L366.60,354.70L366.74,354.21L366.88,353.72L367.02,353.23L367.16,352.74L367.30,352.25L367.43,351.75L367.56,351.26L367.70,350.77L367.82,350.28L367.95,349.78L368.08,349.29L368.20,348.80L368.33,348.27L368.45,347.74L368.58,347.22L368.70,346.69L368.82,346.16L368.93,345.64L369.05,345.11L369.16,344.58L369.27,344.05L369.39,343.53L369.50,343.00L369.61,342.47L369.72,341.95L369.83,341.42L369.94,340.89L370.05,340.36L370.15,339.83L370.26,339.30L370.37,338.78L370.48,338.25L370.59,337.72L370.70,337.20L370.81,336.68L370.93,336.16L371.05,335.65L371.17,335.13L371.29,334.61L371.41,334.10L371.53,333.58L371.64,333.06L371.76,332.54L371.88,332.02L372.00,331.50L372.11,331.01L372.21,330.51L372.32,330.01L372.42,329.51L372.52,329.01L372.63,328.51L372.73,328.00L372.84,327.50L372.95,327.00L373.06,326.50L373.18,326.00L373.30,325.50L373.43,324.98L373.57,324.45L373.72,323.89L373.88,323.33L374.04,322.77L374.20,322.22L374.35,321.69L374.50,321.17L374.65,320.69L374.78,320.25L374.90,319.85L375.00,319.50L375.22,318.79L375.40,318.20" stroke="#8E0000" stroke-width="3.2" stroke-linecap="round" stroke-dasharray="0 6" stroke-dashoffset="5.73"/>
<path d="M243.90,433.00L243.93,432.50L243.96,432.01L243.98,431.52L244.01,431.03L244.04,430.54L244.07,430.06L244.10,429.57L244.13,429.09L244.16,428.61L244.19,428.13L244.22,427.64L244.25,427.16L244.28,426.68L244.31,426.19L244.34,425.70L244.37,425.20L244.39,424.71L244.42,424.21L244.45,423.70L244.47,423.19L244.50,422.68L244.52,422.15L244.54,421.63L244.56,421.09L244.58,420.55L244.60,420.00L244.61,419.55L244.63,419.09L244.64,418.62L244.65,418.14L244.66,417.66L244.67,417.17L244.68,416.67L244.69,416.17L244.69,415.66L244.70,415.14L244.71,414.62L244.71,414.10L244.72,413.57L244.72,413.04L244.72,412.51L244.73,411.98L244.73,411.45L244.73,410.91L244.74,410.38L244.74,409.84L244.74,409.31L244.74,408.77L244.75,408.24L244.75,407.71L244.75,407.19L244.75,406.66L244.75,406.15L244.76,405.63L244.76,405.12L244.76,404.62L244.76,404.12L244.77,403.63L244.77,403.15L244.77,402.67L244.78,402.20L244.78,401.74L244.78,401.29L244.79,400.85L244.79,400.42L244.80,400.00L244.81,399.43L244.82,398.89L244.83,398.37L244.84,397.87L244.85,397.38L244.86,396.92L244.87,396.46L244.88,396.01L244.89,395.56L244.90,395.12L244.91,394.67L244.92,394.22L244.93,393.76L244.94,393.29L244.95,392.80L244.96,392.29L244.97,391.76L244.98,391.20L244.99,390.62L245.00,390.00L245.01,389.63L245.01,389.25L245.02,388.86L245.02,388.47L245.03,388.06L245.03,387.65L245.04,387.23L245.04,386.81L245.05,386.37L245.05,385.93L245.06,385.48L245.06,385.03L245.07,384.57L245.07,384.10L245.08,383.63L245.08,383.15L245.09,382.67L245.09,382.18L245.10,381.69L245.10,381.19L245.11,380.69L245.11,380.18L245.12,379.67L245.12,379.16L245.13,378.64L245.13,378.12L245.14,377.59L245.14,377.07L245.15,376.54L245.15,376.00L245.16,375.47L245.16,374.93L245.17,374.40L245.17,373.86L245.18,373.31L245.18,372.77L245.19,372.23L245.19,371.68L245.20,371.14L245.20,370.60L245.21,370.05L245.21,369.51L245.22,368.96L245.22,368.42L245.23,367.88L245.23,367.34L245.24,366.80L245.24,366.26L245.25,365.72L245.25,365.19L245.26,364.65L245.26,364.12L245.27,363.60L245.27,363.07L245.28,362.55L245.28,362.03L245.29,361.52L245.29,361.01L245.30,360.50L245.30,360.00L245.30,359.50L245.31,359.00L245.31,358.51L245.32,358.01L245.32,357.51L245.33,357.02L245.33,356.53L245.34,356.03L245.34,355.54L245.35,355.05L245.35,354.56L245.36,354.07L245.36,353.58L245.36,353.09L245.37,352.60L245.37,352.11L245.38,351.62L245.38,351.14L245.39,350.65L245.39,350.16L245.39,349.67L245.40,349.18L245.40,348.70L245.41,348.21L245.41,347.72L245.41,347.23L245.42,346.74L245.42,346.25L245.43,345.76L245.43,345.27L245.44,344.78L245.44,344.29L245.45,343.79L245.45,343.30L245.45,342.81L245.46,342.31L245.46,341.81L245.47,341.32L245.47,340.82L245.48,340.32L245.48,339.82L245.49,339.32L245.49,338.81L245.50,338.31L245.51,337.80L245.51,337.30L245.52,336.79L245.52,336.28L245.53,335.76L245.53,335.25L245.54,334.73L245.55,334.22L245.55,333.70L245.56,333.17L245.57,332.65L245.57,332.13L245.58,331.60L245.59,331.07L245.59,330.53L245.60,330.00L245.61,329.53L245.61,329.06L245.62,328.59L245.63,328.11L245.63,327.63L245.64,327.15L245.65,326.66L245.66,326.17L245.66,325.68L245.67,325.18L245.68,324.68L245.69,324.18L245.70,323.67L245.71,323.17L245.71,322.66L245.72,322.14L245.73,321.63L245.74,321.11L245.75,320.60L245.76,320.08L245.77,319.55L245.78,319.03L245.79,318.51L245.80,317.98L245.81,317.46L245.82,316.93L245.83,316.40L245.84,315.87L245.85,315.34L245.86,314.81L245.87,314.28L245.88,313.74L245.89,313.21L245.90,312.68L245.91,312.15L245.92,311.61L245.93,311.08L245.94,310.55L245.95,310.02L245.96,309.49L245.97,308.96L245.98,308.43L245.99,307.90L246.00,307.37L246.01,306.84L246.02,306.32L246.03,305.79L246.04,305.27L246.05,304.75L246.06,304.23L246.07,303.71L246.08,303.20L246.09,302.68L246.10,302.17L246.10,301.66L246.11,301.15L246.12,300.65L246.13,300.15L246.14,299.65L246.15,299.15L246.16,298.66L246.17,298.17L246.18,297.68L246.19,297.20L246.19,296.72L246.20,296.24L246.21,295.77L246.22,295.30L246.23,294.83L246.23,294.37L246.24,293.91L246.25,293.46L246.26,293.01L246.26,292.57L246.27,292.13L246.28,291.69L246.28,291.26L246.29,290.84L246.29,290.42L246.30,290.00L246.31,289.41L246.32,288.83L246.32,288.25L246.33,287.68L246.34,287.12L246.34,286.57L246.35,286.03L246.35,285.49L246.36,284.95L246.36,284.42L246.37,283.90L246.37,283.38L246.38,282.87L246.38,282.36L246.38,281.86L246.39,281.36L246.39,280.86L246.40,280.37L246.40,279.88L246.40,279.39L246.41,278.90L246.41,278.42L246.41,277.94L246.42,277.46L246.42,276.98L246.43,276.50L246.43,276.03L246.43,275.55L246.44,275.07L246.44,274.60L246.45,274.12L246.45,273.64L246.46,273.16L246.47,272.68L246.47,272.20L246.48,271.72L246.48,271.23L246.49,270.74L246.50,270.25L246.51,269.73L246.52,269.20L246.53,268.68L246.54,268.15L246.55,267.62L246.56,267.09L246.57,266.57L246.58,266.04L246.59,265.51L246.60,264.98L246.61,264.45L246.62,263.93L246.63,263.40L246.64,262.88L246.66,262.35L246.67,261.83L246.68,261.31L246.69,260.79L246.70,260.27L246.72,259.76L246.73,259.24L246.74,258.73L246.75,258.22L246.77,257.72L246.78,257.22L246.79,256.72L246.80,256.22L246.81,255.73L246.83,255.24L246.84,254.76L246.85,254.28L246.86,253.80L246.88,253.33L246.89,252.86L246.90,252.40L246.91,251.86L246.93,251.32L246.94,250.80L246.95,250.29L246.97,249.79L246.98,249.29L246.99,248.80L247.01,248.31L247.02,247.83L247.03,247.35L247.05,246.88L247.06,246.40L247.07,245.93L247.09,245.45L247.10,244.97L247.11,244.49L247.13,244.00L247.15,243.51L247.16,243.02L247.18,242.51L247.19,242.00L247.21,241.48L247.23,240.94L247.25,240.40L247.27,239.94L247.28,239.46L247.30,238.98L247.32,238.49L247.34,238.00L247.36,237.50L247.38,236.99L247.39,236.48L247.41,235.96L247.44,235.44L247.46,234.92L247.48,234.39L247.50,233.86L247.52,233.33L247.54,232.79L247.56,232.25L247.58,231.72L247.61,231.18L247.63,230.64L247.65,230.11L247.67,229.57L247.70,229.04L247.72,228.51L247.74,227.98L247.77,227.46L247.79,226.94L247.81,226.42L247.84,225.91L247.86,225.40L247.88,224.90L247.91,224.41L247.93,223.92L247.95,223.44L247.98,222.96L248.00,222.50L248.03,221.95L248.05,221.42L248.08,220.89L248.11,220.36L248.14,219.84L248.16,219.33L248.19,218.82L248.22,218.32L248.25,217.82L248.28,217.33L248.30,216.84L248.33,216.35L248.36,215.86L248.39,215.38L248.42,214.89L248.45,214.41L248.48,213.93L248.51,213.44L248.54,212.96L248.57,212.47L248.60,211.98L248.63,211.49L248.67,211.00L248.70,210.50L248.73,210.00L248.77,209.49L248.80,208.97L248.84,208.45L248.87,207.93L248.91,207.41L248.95,206.88L248.98,206.35L249.02,205.83L249.06,205.30L249.09,204.78L249.13,204.25L249.17,203.73L249.21,203.22L249.25,202.71L249.29,202.21L249.33,201.71L249.36,201.22L249.40,200.74L249.44,200.27L249.48,199.81L249.52,199.36L249.56,198.92L249.60,198.50L249.66,197.91L249.71,197.35L249.76,196.80L249.82,196.27L249.87,195.76L249.93,195.26L249.98,194.76L250.04,194.27L250.10,193.79L250.16,193.30L250.23,192.80L250.30,192.30L250.37,191.76L250.45,191.23L250.52,190.69L250.59,190.16L250.66,189.62L250.74,189.09L250.83,188.57L250.93,188.04L251.04,187.53L251.16,187.01L251.30,186.50L251.45,185.98L251.62,185.41L251.79,184.83L251.98,184.24L252.18,183.66L252.38,183.10L252.60,182.58L252.82,182.12L253.04,181.72L253.27,181.41L253.50,181.20L254.14,181.01L254.80,181.20L255.08,181.41L255.36,181.73L255.64,182.14L255.92,182.61L256.20,183.13L256.47,183.68L256.75,184.24L257.03,184.78L257.30,185.30L257.53,185.73L257.77,186.16L258.00,186.60L258.24,187.06L258.47,187.51L258.70,187.98L258.93,188.44L259.16,188.91L259.38,189.39L259.59,189.86L259.80,190.33L260.00,190.80L260.19,191.27L260.37,191.74L260.55,192.21L260.72,192.68L260.88,193.16L261.04,193.64L261.20,194.11L261.36,194.59L261.52,195.07L261.67,195.55L261.84,196.02L262.00,196.50L262.17,196.98L262.34,197.45L262.51,197.93L262.68,198.40L262.85,198.88L263.02,199.35L263.19,199.83L263.35,200.30L263.52,200.78L263.68,201.25L263.84,201.73L264.00,202.20L264.17,202.71L264.33,203.22L264.49,203.72L264.64,204.23L264.80,204.74L264.95,205.24L265.10,205.75L265.25,206.26L265.40,206.77L265.55,207.28L265.70,207.80L265.84,208.29L265.98,208.77L266.11,209.26L266.25,209.75L266.38,210.25L266.51,210.74L266.65,211.24L266.78,211.73L266.91,212.22L267.04,212.72L267.17,213.21L267.30,213.70L267.44,214.23L267.58,214.76L267.71,215.29L267.85,215.82L267.98,216.35L268.12,216.88L268.25,217.41L268.39,217.94L268.52,218.46L268.66,218.98L268.80,219.50L268.93,219.98L269.06,220.45L269.19,220.90L269.32,221.35L269.45,221.80L269.58,222.26L269.72,222.72L269.86,223.20L270.00,223.71L270.15,224.24L270.30,224.80L270.41,225.21L270.53,225.65L270.65,226.11L270.77,226.58L270.90,227.08L271.03,227.58L271.17,228.11L271.30,228.64L271.44,229.18L271.58,229.72L271.72,230.27L271.86,230.83L272.00,231.38L272.14,231.93L272.28,232.48L272.42,233.02L272.56,233.56L272.69,234.08L272.82,234.59L272.94,235.09L273.06,235.57L273.18,236.04L273.29,236.48L273.40,236.90L273.55,237.49L273.69,238.04L273.82,238.58L273.95,239.08L274.07,239.58L274.19,240.06L274.31,240.54L274.43,241.02L274.55,241.50L274.67,241.99L274.80,242.50L274.92,242.99L275.05,243.49L275.17,243.99L275.30,244.49L275.43,244.99L275.55,245.49L275.68,245.99L275.80,246.50L275.93,247.00L276.05,247.50L276.18,248.00L276.30,248.50L276.42,248.99L276.54,249.49L276.65,249.98L276.77,250.47L276.88,250.97L277.00,251.46L277.11,251.95L277.23,252.44L277.34,252.93L277.46,253.42L277.58,253.91L277.70,254.40L277.83,254.92L277.97,255.44L278.10,255.96L278.24,256.48L278.38,257.00L278.52,257.51L278.66,258.03L278.80,258.54L278.93,259.06L279.07,259.58L279.20,260.10L279.33,260.62L279.46,261.15L279.58,261.68L279.71,262.20L279.83,262.73L279.95,263.26L280.07,263.79L280.20,264.32L280.33,264.85L280.46,265.37L280.60,265.90L280.73,266.39L280.87,266.88L281.01,267.36L281.15,267.85L281.30,268.34L281.44,268.83L281.59,269.32L281.74,269.80L281.88,270.29L282.02,270.78L282.16,271.26L282.30,271.75L282.44,272.27L282.58,272.80L282.72,273.32L282.85,273.85L282.98,274.37L283.11,274.89L283.25,275.41L283.38,275.94L283.52,276.46L283.66,276.98L283.80,277.50L283.95,278.02L284.10,278.54L284.25,279.06L284.40,279.57L284.55,280.09L284.71,280.61L284.87,281.13L285.03,281.64L285.18,282.16L285.34,282.68L285.50,283.20L285.65,283.68L285.80,284.16L285.95,284.65L286.10,285.13L286.25,285.62L286.40,286.10L286.55,286.58L286.70,287.07L286.85,287.55L287.00,288.04L287.15,288.52L287.30,289.00L287.46,289.52L287.61,290.04L287.76,290.56L287.91,291.08L288.06,291.59L288.21,292.11L288.37,292.63L288.52,293.15L288.68,293.66L288.84,294.18L289.00,294.70L289.16,295.18L289.32,295.67L289.49,296.15L289.65,296.63L289.82,297.11L289.99,297.60L290.17,298.08L290.34,298.56L290.51,299.05L290.67,299.53L290.84,300.02L291.00,300.50L291.16,300.98L291.31,301.47L291.47,301.95L291.62,302.43L291.78,302.92L291.93,303.40L292.08,303.88L292.23,304.37L292.37,304.85L292.52,305.33L292.66,305.82L292.80,306.30L292.95,306.82L293.10,307.33L293.24,307.85L293.39,308.37L293.53,308.88L293.67,309.40L293.80,309.91L293.94,310.43L294.06,310.95L294.18,311.47L294.30,312.00L294.40,312.49L294.50,312.99L294.59,313.48L294.68,313.98L294.76,314.48L294.84,314.99L294.92,315.49L294.99,315.99L295.07,316.49L295.15,317.00L295.22,317.50L295.30,318.00L295.38,318.50L295.46,319.00L295.53,319.50L295.61,320.00L295.69,320.50L295.76,321.01L295.84,321.51L295.91,322.01L295.98,322.51L296.06,323.01L296.13,323.50L296.20,324.00L296.28,324.53L296.35,325.06L296.43,325.58L296.51,326.11L296.59,326.63L296.66,327.15L296.74,327.68L296.81,328.21L296.87,328.73L296.94,329.27L297.00,329.80L297.05,330.31L297.10,330.82L297.14,331.34L297.18,331.86L297.22,332.38L297.26,332.90L297.29,333.42L297.33,333.94L297.37,334.46L297.41,334.98L297.45,335.49L297.50,336.00L297.56,336.53L297.62,337.07L297.68,337.60L297.75,338.12L297.82,338.65L297.88,339.17L297.95,339.70L298.02,340.22L298.08,340.74L298.14,341.27L298.20,341.80L298.25,342.33L298.30,342.87L298.35,343.41L298.40,343.94L298.44,344.48L298.48,345.02L298.53,345.56L298.57,346.09L298.61,346.63L298.66,347.17L298.70,347.70L298.75,348.23L298.79,348.76L298.84,349.28L298.88,349.81L298.93,350.33L298.97,350.86L299.02,351.39L299.06,351.91L299.11,352.44L299.15,352.97L299.20,353.50L299.24,354.00L299.29,354.49L299.33,354.99L299.37,355.49L299.42,355.99L299.46,356.49L299.51,356.99L299.55,357.50L299.59,358.00L299.63,358.50L299.67,359.00L299.70,359.50L299.73,360.00L299.76,360.50L299.78,361.00L299.81,361.50L299.83,362.00L299.85,362.50L299.87,363.00L299.89,363.50L299.92,364.00L299.94,364.50L299.97,365.00L300.00,365.50L300.03,365.99L300.07,366.48L300.11,366.95L300.15,367.42L300.19,367.90L300.24,368.37L300.28,368.85L300.33,369.35L300.37,369.85L300.41,370.38L300.46,370.93L300.50,371.50L300.53,371.92L300.56,372.37L300.58,372.83L300.61,373.31L300.64,373.80L300.66,374.31L300.69,374.82L300.72,375.35L300.74,375.88L300.77,376.42L300.79,376.96L300.82,377.50L300.85,378.04L300.87,378.59L300.90,379.12L300.93,379.65L300.96,380.18L300.99,380.69L301.02,381.20L301.05,381.69L301.09,382.17L301.12,382.63L301.16,383.08L301.20,383.50L301.26,384.07L301.32,384.62L301.38,385.15L301.45,385.66L301.51,386.15L301.58,386.64L301.65,387.11L301.72,387.59L301.79,388.06L301.86,388.53L301.93,389.01L302.00,389.50L302.07,390.03L302.15,390.56L302.22,391.09L302.29,391.62L302.37,392.15L302.44,392.67L302.52,393.20L302.59,393.72L302.66,394.25L302.73,394.77L302.80,395.30L302.87,395.82L302.93,396.34L303.00,396.85L303.06,397.37L303.13,397.88L303.19,398.40L303.25,398.91L303.31,399.43L303.38,399.95L303.44,400.47L303.50,401.00L303.56,401.51L303.62,402.02L303.67,402.53L303.73,403.05L303.79,403.56L303.85,404.08L303.90,404.60L303.96,405.12L304.02,405.64L304.08,406.16L304.14,406.68L304.20,407.20L304.26,407.72L304.33,408.25L304.39,408.78L304.46,409.30L304.52,409.83L304.59,410.36L304.65,410.88L304.72,411.41L304.79,411.94L304.86,412.46L304.93,412.98L305.00,413.50L305.07,414.01L305.13,414.51L305.20,415.02L305.26,415.52L305.33,416.03L305.40,416.53L305.47,417.03L305.54,417.53L305.62,418.03L305.70,418.52L305.80,419.01L305.90,419.50L306.02,420.01L306.15,420.52L306.29,421.02L306.43,421.52L306.58,422.02L306.73,422.51L306.89,423.01L307.05,423.50L307.20,424.00L307.35,424.50L307.50,425.00L307.64,425.51L307.78,426.02L307.92,426.52L308.06,427.03L308.20,427.54L308.34,428.06L308.48,428.57L308.63,429.08L308.78,429.58L308.94,430.09L309.10,430.60L309.26,431.07L309.42,431.55L309.58,432.03L309.74,432.50L309.91,432.98L310.08,433.46L310.26,433.93L310.44,434.40L310.63,434.87L310.83,435.33L311.03,435.79L311.25,436.25L311.47,436.71L311.70,437.17L311.94,437.62L312.18,438.08L312.43,438.53L312.68,438.98L312.94,439.42L313.22,439.86L313.50,440.29L313.79,440.70L314.09,441.11L314.40,441.50L314.74,441.91L315.10,442.32L315.46,442.72L315.83,443.11L316.21,443.49L316.61,443.86L317.01,444.21L317.43,444.54L317.86,444.85L318.30,445.14L318.75,445.40L319.19,445.62L319.64,445.82L320.11,446.01L320.59,446.18L321.08,446.33L321.58,446.46L322.09,446.58L322.59,446.68L323.10,446.76L323.61,446.83L324.11,446.87L324.60,446.90L325.13,446.91L325.66,446.89L326.19,446.84L326.72,446.77L327.25,446.69L327.78,446.58L328.31,446.47L328.84,446.34L329.36,446.20L329.88,446.05L330.40,445.90L330.88,445.75L331.36,445.59L331.84,445.43L332.32,445.25L332.80,445.06L333.27,444.86L333.75,444.66L334.21,444.44L334.67,444.22L335.12,443.99L335.57,443.75L336.00,443.50L336.45,443.23L336.90,442.95L337.33,442.65L337.76,442.35L338.19,442.04L338.60,441.72L339.01,441.39L339.42,441.06L339.82,440.71L340.21,440.36L340.60,440.00L340.96,439.65L341.31,439.30L341.66,438.93L342.00,438.55L342.34,438.17L342.67,437.78L343.00,437.39L343.33,436.99L343.65,436.59L343.97,436.19L344.29,435.80L344.60,435.40L344.94,434.97L345.27,434.55L345.60,434.12L345.92,433.69L346.24,433.26L346.56,432.83L346.88,432.39L347.19,431.95L347.49,431.50L347.80,431.05L348.10,430.60L348.38,430.17L348.65,429.73L348.93,429.29L349.19,428.85L349.46,428.40L349.72,427.95L349.98,427.50L350.24,427.05L350.50,426.60L350.75,426.15L351.00,425.70L351.25,425.25L351.51,424.77L351.77,424.30L352.03,423.83L352.29,423.35L352.54,422.88L352.79,422.40L353.03,421.93L353.28,421.45L353.52,420.97L353.76,420.49L354.00,420.00L354.22,419.54L354.44,419.08L354.65,418.62L354.86,418.15L355.07,417.68L355.28,417.21L355.49,416.74L355.69,416.27L355.90,415.80L356.10,415.33L356.30,414.86L356.50,414.40L356.71,413.91L356.92,413.42L357.13,412.93L357.33,412.44L357.54,411.95L357.74,411.46L357.94,410.97L358.14,410.48L358.35,409.99L358.55,409.49L358.75,409.00L358.94,408.54L359.13,408.07L359.32,407.61L359.51,407.14L359.70,406.68L359.89,406.21L360.08,405.74L360.27,405.27L360.45,404.81L360.64,404.34L360.82,403.87L361.00,403.40L361.19,402.89L361.37,402.38L361.55,401.88L361.73,401.37L361.90,400.86L362.08,400.35L362.25,399.84L362.43,399.33L362.61,398.82L362.80,398.31L363.00,397.80L363.19,397.31L363.40,396.82L363.60,396.33L363.81,395.83L364.03,395.33L364.25,394.83L364.46,394.34L364.68,393.85L364.89,393.37L365.10,392.90L365.30,392.45L365.50,392.00L365.74,391.46L365.97,390.95L366.19,390.44L366.42,389.95L366.64,389.47L366.86,388.98L367.08,388.49L367.30,388.00" stroke="#2E2E99" stroke-width="3.2" stroke-linecap="round" stroke-dasharray="0 6" stroke-dashoffset="5.46"/>
</g>
</svg>
</body></html>
